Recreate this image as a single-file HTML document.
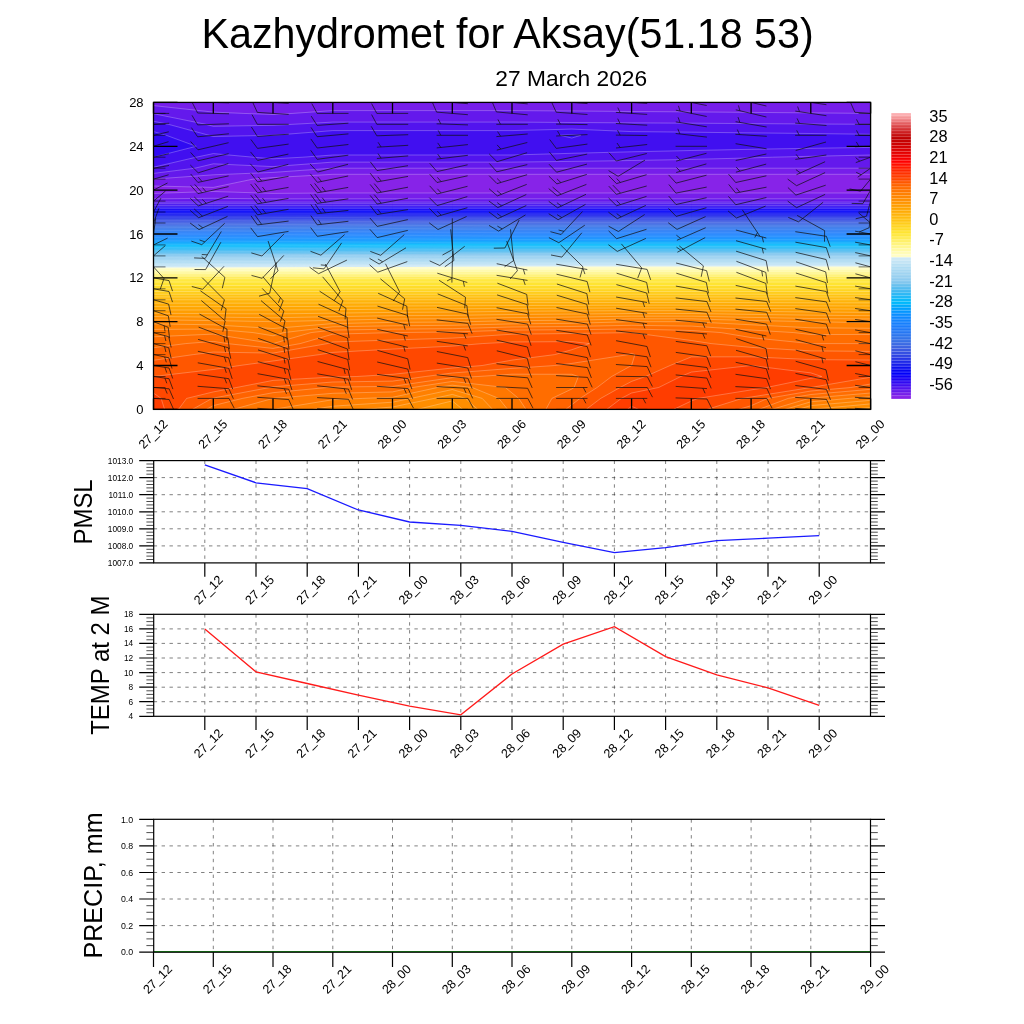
<!DOCTYPE html>
<html><head><meta charset="utf-8"><title>Kazhydromet for Aksay</title>
<style>html,body{margin:0;padding:0;background:#fff}svg{display:block}</style></head>
<body>
<svg width="1024" height="1024" viewBox="0 0 1024 1024" font-family="Liberation Sans, sans-serif" fill="#000">
<rect x="153.5" y="102.4" width="717.1" height="307.0" fill="#8723e8"/>
<path d="M153.5,409.4L213.3,409.4L273.0,409.4L332.8,409.4L392.5,409.4L452.3,409.4L512.0,409.4L571.8,409.4L631.6,409.4L691.3,409.4L751.1,409.4L810.8,409.4L870.6,409.4L870.6,398.4L870.6,387.5L870.6,376.5L870.6,365.5L870.6,354.6L870.6,343.6L870.6,332.6L870.6,321.7L870.6,310.7L870.6,299.8L870.6,288.8L870.6,277.8L870.6,266.9L870.6,255.9L870.6,244.9L870.6,234.0L870.6,223.0L870.6,212.0L870.6,201.1L870.6,193.0L810.8,193.0L751.1,193.0L691.3,193.0L631.6,193.0L571.8,193.0L512.0,193.0L452.3,193.0L392.5,193.0L332.8,193.0L273.0,193.4L213.3,191.5L153.5,193.4L153.5,201.1L153.5,212.0L153.5,223.0L153.5,234.0L153.5,244.9L153.5,255.9L153.5,266.9L153.5,277.8L153.5,288.8L153.5,299.8L153.5,310.7L153.5,321.7L153.5,332.6L153.5,343.6L153.5,354.6L153.5,365.5L153.5,376.5L153.5,387.5L153.5,398.4ZM153.5,179.1L153.5,186.0L213.3,187.4L253.1,179.1L273.0,177.6L332.8,174.3L392.5,174.3L452.3,174.3L512.0,174.3L571.8,174.3L631.6,174.3L691.3,174.3L751.1,174.3L810.8,174.3L870.6,174.3L870.6,168.2L870.6,157.2L870.6,146.3L870.6,135.3L870.6,124.3L870.6,113.4L870.6,102.4L810.8,102.4L751.1,102.4L691.3,102.4L631.6,102.4L571.8,102.4L512.0,102.4L452.3,102.4L392.5,102.4L332.8,102.4L273.0,102.4L213.3,102.4L153.5,102.4L153.5,113.4L153.5,124.3L153.5,135.3L153.5,146.3L153.5,157.2L153.5,168.2Z" fill="#761eea"/>
<path d="M153.5,409.4L213.3,409.4L273.0,409.4L332.8,409.4L392.5,409.4L452.3,409.4L512.0,409.4L571.8,409.4L631.6,409.4L691.3,409.4L751.1,409.4L810.8,409.4L870.6,409.4L870.6,398.4L870.6,387.5L870.6,376.5L870.6,365.5L870.6,354.6L870.6,343.6L870.6,332.6L870.6,321.7L870.6,310.7L870.6,299.8L870.6,288.8L870.6,277.8L870.6,266.9L870.6,255.9L870.6,244.9L870.6,234.0L870.6,223.0L870.6,212.0L870.6,201.1L870.6,198.8L810.8,198.8L751.1,198.8L691.3,198.8L631.6,198.8L571.8,198.8L512.0,198.8L452.3,198.8L392.5,198.8L332.8,198.8L273.0,198.9L213.3,198.3L153.5,198.9L153.5,201.1L153.5,212.0L153.5,223.0L153.5,234.0L153.5,244.9L153.5,255.9L153.5,266.9L153.5,277.8L153.5,288.8L153.5,299.8L153.5,310.7L153.5,321.7L153.5,332.6L153.5,343.6L153.5,354.6L153.5,365.5L153.5,376.5L153.5,387.5L153.5,398.4ZM153.5,168.2L153.5,179.1L213.3,174.8L273.0,172.4L332.8,168.2L332.8,168.2L392.5,168.2L452.3,168.2L512.0,168.2L571.8,168.2L631.6,168.2L691.3,168.2L751.1,168.2L810.8,168.2L870.6,168.2L870.6,157.2L870.6,146.3L870.6,135.3L870.6,124.3L870.6,113.4L870.6,113.4L810.8,112.9L751.1,112.4L691.3,111.9L631.6,111.5L571.8,111.0L512.0,110.6L452.3,110.6L392.5,110.6L332.8,110.6L292.9,113.4L273.0,114.5L243.1,113.4L213.3,112.1L153.5,105.6L153.5,113.4L153.5,124.3L153.5,135.3L153.5,146.3L153.5,157.2Z" fill="#6419ec"/>
<path d="M153.5,409.4L213.3,409.4L273.0,409.4L332.8,409.4L392.5,409.4L452.3,409.4L512.0,409.4L571.8,409.4L631.6,409.4L691.3,409.4L751.1,409.4L810.8,409.4L870.6,409.4L870.6,398.4L870.6,387.5L870.6,376.5L870.6,365.5L870.6,354.6L870.6,343.6L870.6,332.6L870.6,321.7L870.6,310.7L870.6,299.8L870.6,288.8L870.6,277.8L870.6,266.9L870.6,255.9L870.6,244.9L870.6,234.0L870.6,223.0L870.6,212.0L870.6,202.1L810.8,202.1L751.1,202.1L691.3,202.1L631.6,202.1L571.8,202.1L512.0,202.1L452.3,202.1L392.5,202.1L332.8,202.1L273.0,202.1L213.3,202.1L153.5,202.1L153.5,212.0L153.5,223.0L153.5,234.0L153.5,244.9L153.5,255.9L153.5,266.9L153.5,277.8L153.5,288.8L153.5,299.8L153.5,310.7L153.5,321.7L153.5,332.6L153.5,343.6L153.5,354.6L153.5,365.5L153.5,376.5L153.5,387.5L153.5,398.4ZM153.5,168.2L153.5,173.4L194.9,168.2L213.3,163.8L273.0,166.6L332.8,162.1L392.5,162.1L452.3,162.1L512.0,162.1L571.8,161.4L631.6,160.5L691.3,159.4L751.1,157.9L772.8,157.2L810.8,156.3L870.6,155.0L870.6,146.3L870.6,135.3L870.6,124.3L870.6,124.3L810.8,124.0L751.1,123.6L691.3,123.2L631.6,122.9L571.8,122.5L512.0,122.1L452.3,122.1L392.5,122.1L332.8,122.1L292.9,124.3L273.0,125.3L213.3,126.3L205.8,124.3L153.5,113.7L153.5,124.3L153.5,135.3L153.5,146.3L153.5,157.2Z" fill="#5214ee"/>
<path d="M153.5,409.4L213.3,409.4L273.0,409.4L332.8,409.4L392.5,409.4L452.3,409.4L512.0,409.4L571.8,409.4L631.6,409.4L691.3,409.4L751.1,409.4L810.8,409.4L870.6,409.4L870.6,398.4L870.6,387.5L870.6,376.5L870.6,365.5L870.6,354.6L870.6,343.6L870.6,332.6L870.6,321.7L870.6,310.7L870.6,299.8L870.6,288.8L870.6,277.8L870.6,266.9L870.6,255.9L870.6,244.9L870.6,234.0L870.6,223.0L870.6,212.0L870.6,203.7L810.8,203.7L751.1,203.7L691.3,203.7L631.6,203.7L571.8,203.7L512.0,203.7L452.3,203.7L392.5,203.7L332.8,203.7L273.0,203.7L213.3,203.7L153.5,203.7L153.5,212.0L153.5,223.0L153.5,234.0L153.5,244.9L153.5,255.9L153.5,266.9L153.5,277.8L153.5,288.8L153.5,299.8L153.5,310.7L153.5,321.7L153.5,332.6L153.5,343.6L153.5,354.6L153.5,365.5L153.5,376.5L153.5,387.5L153.5,398.4ZM153.5,157.2L153.5,167.2L196.2,157.2L213.3,153.6L253.1,157.2L273.0,158.8L302.9,157.2L332.8,155.0L392.5,155.0L452.3,155.0L512.0,155.0L571.8,153.3L631.6,151.8L691.3,150.5L751.1,149.3L810.8,148.3L870.6,147.4L870.6,146.3L870.6,135.3L870.6,134.3L810.8,133.5L751.1,132.9L691.3,132.2L631.6,131.6L571.8,129.1L512.0,130.6L452.3,130.6L392.5,130.6L332.8,130.6L273.0,135.3L273.0,135.3L213.3,136.5L209.0,135.3L168.4,124.3L153.5,121.3L153.5,124.3L153.5,135.3L153.5,146.3Z" fill="#410ff0"/>
<path d="M153.5,409.4L213.3,409.4L273.0,409.4L332.8,409.4L392.5,409.4L452.3,409.4L512.0,409.4L571.8,409.4L631.6,409.4L691.3,409.4L751.1,409.4L810.8,409.4L870.6,409.4L870.6,398.4L870.6,387.5L870.6,376.5L870.6,365.5L870.6,354.6L870.6,343.6L870.6,332.6L870.6,321.7L870.6,310.7L870.6,299.8L870.6,288.8L870.6,277.8L870.6,266.9L870.6,255.9L870.6,244.9L870.6,234.0L870.6,223.0L870.6,212.0L870.6,205.4L810.8,205.4L751.1,205.4L691.3,205.4L631.6,205.4L571.8,205.4L512.0,205.4L452.3,205.4L392.5,205.4L332.8,205.4L273.0,205.4L213.3,205.4L153.5,205.4L153.5,212.0L153.5,223.0L153.5,234.0L153.5,244.9L153.5,255.9L153.5,266.9L153.5,277.8L153.5,288.8L153.5,299.8L153.5,310.7L153.5,321.7L153.5,332.6L153.5,343.6L153.5,354.6L153.5,365.5L153.5,376.5L153.5,387.5L153.5,398.4ZM153.5,146.3L153.5,157.2L196.2,146.3L166.3,135.3L153.5,131.6L153.5,135.3ZM559.9,135.3L571.8,138.0L580.8,135.3L571.8,134.7Z" fill="#300af2"/>
<path d="M153.5,409.4L213.3,409.4L273.0,409.4L332.8,409.4L392.5,409.4L452.3,409.4L512.0,409.4L571.8,409.4L631.6,409.4L691.3,409.4L751.1,409.4L810.8,409.4L870.6,409.4L870.6,398.4L870.6,387.5L870.6,376.5L870.6,365.5L870.6,354.6L870.6,343.6L870.6,332.6L870.6,321.7L870.6,310.7L870.6,299.8L870.6,288.8L870.6,277.8L870.6,266.9L870.6,255.9L870.6,244.9L870.6,234.0L870.6,223.0L870.6,212.0L870.6,207.1L810.8,207.1L751.1,207.1L691.3,207.1L631.6,207.1L571.8,207.1L512.0,207.1L452.3,207.1L392.5,207.1L332.8,207.1L273.0,207.1L213.3,207.1L153.5,207.1L153.5,212.0L153.5,223.0L153.5,234.0L153.5,244.9L153.5,255.9L153.5,266.9L153.5,277.8L153.5,288.8L153.5,299.8L153.5,310.7L153.5,321.7L153.5,332.6L153.5,343.6L153.5,354.6L153.5,365.5L153.5,376.5L153.5,387.5L153.5,398.4Z" fill="#1e05f5"/>
<path d="M153.5,409.4L213.3,409.4L273.0,409.4L332.8,409.4L392.5,409.4L452.3,409.4L512.0,409.4L571.8,409.4L631.6,409.4L691.3,409.4L751.1,409.4L810.8,409.4L870.6,409.4L870.6,398.4L870.6,387.5L870.6,376.5L870.6,365.5L870.6,354.6L870.6,343.6L870.6,332.6L870.6,321.7L870.6,310.7L870.6,299.8L870.6,288.8L870.6,277.8L870.6,266.9L870.6,255.9L870.6,244.9L870.6,234.0L870.6,223.0L870.6,212.0L870.6,208.7L810.8,208.7L751.1,208.7L691.3,208.7L631.6,208.7L571.8,208.7L512.0,208.7L452.3,208.7L392.5,208.7L332.8,208.7L273.0,208.7L213.3,208.7L153.5,208.7L153.5,212.0L153.5,223.0L153.5,234.0L153.5,244.9L153.5,255.9L153.5,266.9L153.5,277.8L153.5,288.8L153.5,299.8L153.5,310.7L153.5,321.7L153.5,332.6L153.5,343.6L153.5,354.6L153.5,365.5L153.5,376.5L153.5,387.5L153.5,398.4Z" fill="#0f00f8"/>
<path d="M153.5,409.4L213.3,409.4L273.0,409.4L332.8,409.4L392.5,409.4L452.3,409.4L512.0,409.4L571.8,409.4L631.6,409.4L691.3,409.4L751.1,409.4L810.8,409.4L870.6,409.4L870.6,398.4L870.6,387.5L870.6,376.5L870.6,365.5L870.6,354.6L870.6,343.6L870.6,332.6L870.6,321.7L870.6,310.7L870.6,299.8L870.6,288.8L870.6,277.8L870.6,266.9L870.6,255.9L870.6,244.9L870.6,234.0L870.6,223.0L870.6,212.0L870.6,210.4L810.8,210.4L751.1,210.4L691.3,210.4L631.6,210.4L571.8,210.4L512.0,210.4L452.3,210.4L392.5,210.4L332.8,210.4L273.0,210.4L213.3,210.4L153.5,210.4L153.5,212.0L153.5,223.0L153.5,234.0L153.5,244.9L153.5,255.9L153.5,266.9L153.5,277.8L153.5,288.8L153.5,299.8L153.5,310.7L153.5,321.7L153.5,332.6L153.5,343.6L153.5,354.6L153.5,365.5L153.5,376.5L153.5,387.5L153.5,398.4Z" fill="#0000fa"/>
<path d="M153.5,409.4L213.3,409.4L273.0,409.4L332.8,409.4L392.5,409.4L452.3,409.4L512.0,409.4L571.8,409.4L631.6,409.4L691.3,409.4L751.1,409.4L810.8,409.4L870.6,409.4L870.6,398.4L870.6,387.5L870.6,376.5L870.6,365.5L870.6,354.6L870.6,343.6L870.6,332.6L870.6,321.7L870.6,310.7L870.6,299.8L870.6,288.8L870.6,277.8L870.6,266.9L870.6,255.9L870.6,244.9L870.6,234.0L870.6,223.0L870.6,212.0L810.8,212.0L751.1,212.0L691.3,212.0L631.6,212.0L571.8,212.0L512.0,212.0L452.3,212.0L392.5,212.0L332.8,212.0L273.0,212.0L213.3,212.0L153.5,212.0L153.5,223.0L153.5,234.0L153.5,244.9L153.5,255.9L153.5,266.9L153.5,277.8L153.5,288.8L153.5,299.8L153.5,310.7L153.5,321.7L153.5,332.6L153.5,343.6L153.5,354.6L153.5,365.5L153.5,376.5L153.5,387.5L153.5,398.4Z" fill="#0505f5"/>
<path d="M153.5,409.4L213.3,409.4L273.0,409.4L332.8,409.4L392.5,409.4L452.3,409.4L512.0,409.4L571.8,409.4L631.6,409.4L691.3,409.4L751.1,409.4L810.8,409.4L870.6,409.4L870.6,398.4L870.6,387.5L870.6,376.5L870.6,365.5L870.6,354.6L870.6,343.6L870.6,332.6L870.6,321.7L870.6,310.7L870.6,299.8L870.6,288.8L870.6,277.8L870.6,266.9L870.6,255.9L870.6,244.9L870.6,234.0L870.6,223.0L870.6,213.3L810.8,213.3L751.1,213.3L691.3,213.3L631.6,213.3L571.8,213.3L512.0,213.3L452.3,213.4L392.5,213.4L332.8,213.4L273.0,213.4L213.3,213.4L153.5,213.5L153.5,223.0L153.5,234.0L153.5,244.9L153.5,255.9L153.5,266.9L153.5,277.8L153.5,288.8L153.5,299.8L153.5,310.7L153.5,321.7L153.5,332.6L153.5,343.6L153.5,354.6L153.5,365.5L153.5,376.5L153.5,387.5L153.5,398.4Z" fill="#0c0ff0"/>
<path d="M153.5,409.4L213.3,409.4L273.0,409.4L332.8,409.4L392.5,409.4L452.3,409.4L512.0,409.4L571.8,409.4L631.6,409.4L691.3,409.4L751.1,409.4L810.8,409.4L870.6,409.4L870.6,398.4L870.6,387.5L870.6,376.5L870.6,365.5L870.6,354.6L870.6,343.6L870.6,332.6L870.6,321.7L870.6,310.7L870.6,299.8L870.6,288.8L870.6,277.8L870.6,266.9L870.6,255.9L870.6,244.9L870.6,234.0L870.6,223.0L870.6,214.7L810.8,214.7L751.1,214.7L691.3,214.7L631.6,214.7L571.8,214.7L512.0,214.7L452.3,214.7L392.5,214.7L332.8,214.8L273.0,214.8L213.3,214.8L153.5,214.9L153.5,223.0L153.5,234.0L153.5,244.9L153.5,255.9L153.5,266.9L153.5,277.8L153.5,288.8L153.5,299.8L153.5,310.7L153.5,321.7L153.5,332.6L153.5,343.6L153.5,354.6L153.5,365.5L153.5,376.5L153.5,387.5L153.5,398.4Z" fill="#161deb"/>
<path d="M153.5,409.4L213.3,409.4L273.0,409.4L332.8,409.4L392.5,409.4L452.3,409.4L512.0,409.4L571.8,409.4L631.6,409.4L691.3,409.4L751.1,409.4L810.8,409.4L870.6,409.4L870.6,398.4L870.6,387.5L870.6,376.5L870.6,365.5L870.6,354.6L870.6,343.6L870.6,332.6L870.6,321.7L870.6,310.7L870.6,299.8L870.6,288.8L870.6,277.8L870.6,266.9L870.6,255.9L870.6,244.9L870.6,234.0L870.6,223.0L870.6,216.0L810.8,216.0L751.1,216.0L691.3,216.0L631.6,216.0L571.8,216.0L512.0,216.0L452.3,216.0L392.5,216.1L332.8,216.1L273.0,216.2L213.3,216.3L153.5,216.3L153.5,223.0L153.5,234.0L153.5,244.9L153.5,255.9L153.5,266.9L153.5,277.8L153.5,288.8L153.5,299.8L153.5,310.7L153.5,321.7L153.5,332.6L153.5,343.6L153.5,354.6L153.5,365.5L153.5,376.5L153.5,387.5L153.5,398.4Z" fill="#1e29e8"/>
<path d="M153.5,409.4L213.3,409.4L273.0,409.4L332.8,409.4L392.5,409.4L452.3,409.4L512.0,409.4L571.8,409.4L631.6,409.4L691.3,409.4L751.1,409.4L810.8,409.4L870.6,409.4L870.6,398.4L870.6,387.5L870.6,376.5L870.6,365.5L870.6,354.6L870.6,343.6L870.6,332.6L870.6,321.7L870.6,310.7L870.6,299.8L870.6,288.8L870.6,277.8L870.6,266.9L870.6,255.9L870.6,244.9L870.6,234.0L870.6,223.0L870.6,217.3L810.8,217.3L751.1,217.3L691.3,217.3L631.6,217.3L571.8,217.3L512.0,217.3L452.3,217.3L392.5,217.4L332.8,217.5L273.0,217.6L213.3,217.7L153.5,217.7L153.5,223.0L153.5,234.0L153.5,244.9L153.5,255.9L153.5,266.9L153.5,277.8L153.5,288.8L153.5,299.8L153.5,310.7L153.5,321.7L153.5,332.6L153.5,343.6L153.5,354.6L153.5,365.5L153.5,376.5L153.5,387.5L153.5,398.4Z" fill="#2636e6"/>
<path d="M153.5,409.4L213.3,409.4L273.0,409.4L332.8,409.4L392.5,409.4L452.3,409.4L512.0,409.4L571.8,409.4L631.6,409.4L691.3,409.4L751.1,409.4L810.8,409.4L870.6,409.4L870.6,398.4L870.6,387.5L870.6,376.5L870.6,365.5L870.6,354.6L870.6,343.6L870.6,332.6L870.6,321.7L870.6,310.7L870.6,299.8L870.6,288.8L870.6,277.8L870.6,266.9L870.6,255.9L870.6,244.9L870.6,234.0L870.6,223.0L870.6,218.6L810.8,218.6L751.1,218.6L691.3,218.6L631.6,218.6L571.8,218.6L512.0,218.6L452.3,218.7L392.5,218.8L332.8,218.9L273.0,219.0L213.3,219.1L153.5,219.2L153.5,223.0L153.5,234.0L153.5,244.9L153.5,255.9L153.5,266.9L153.5,277.8L153.5,288.8L153.5,299.8L153.5,310.7L153.5,321.7L153.5,332.6L153.5,343.6L153.5,354.6L153.5,365.5L153.5,376.5L153.5,387.5L153.5,398.4Z" fill="#2d43e4"/>
<path d="M153.5,409.4L213.3,409.4L273.0,409.4L332.8,409.4L392.5,409.4L452.3,409.4L512.0,409.4L571.8,409.4L631.6,409.4L691.3,409.4L751.1,409.4L810.8,409.4L870.6,409.4L870.6,398.4L870.6,387.5L870.6,376.5L870.6,365.5L870.6,354.6L870.6,343.6L870.6,332.6L870.6,321.7L870.6,310.7L870.6,299.8L870.6,288.8L870.6,277.8L870.6,266.9L870.6,255.9L870.6,244.9L870.6,234.0L870.6,223.0L870.6,219.9L810.8,219.9L751.1,219.9L691.3,219.9L631.6,219.9L571.8,219.9L512.0,219.9L452.3,220.0L392.5,220.1L332.8,220.2L273.0,220.3L213.3,220.5L153.5,220.6L153.5,223.0L153.5,234.0L153.5,244.9L153.5,255.9L153.5,266.9L153.5,277.8L153.5,288.8L153.5,299.8L153.5,310.7L153.5,321.7L153.5,332.6L153.5,343.6L153.5,354.6L153.5,365.5L153.5,376.5L153.5,387.5L153.5,398.4Z" fill="#344fe2"/>
<path d="M153.5,409.4L213.3,409.4L273.0,409.4L332.8,409.4L392.5,409.4L452.3,409.4L512.0,409.4L571.8,409.4L631.6,409.4L691.3,409.4L751.1,409.4L810.8,409.4L870.6,409.4L870.6,398.4L870.6,387.5L870.6,376.5L870.6,365.5L870.6,354.6L870.6,343.6L870.6,332.6L870.6,321.7L870.6,310.7L870.6,299.8L870.6,288.8L870.6,277.8L870.6,266.9L870.6,255.9L870.6,244.9L870.6,234.0L870.6,223.0L870.6,221.2L810.8,221.2L751.1,221.2L691.3,221.2L631.6,221.2L571.8,221.2L512.0,221.2L452.3,221.3L392.5,221.4L332.8,221.6L273.0,221.7L213.3,221.9L153.5,222.0L153.5,223.0L153.5,234.0L153.5,244.9L153.5,255.9L153.5,266.9L153.5,277.8L153.5,288.8L153.5,299.8L153.5,310.7L153.5,321.7L153.5,332.6L153.5,343.6L153.5,354.6L153.5,365.5L153.5,376.5L153.5,387.5L153.5,398.4Z" fill="#3a59e1"/>
<path d="M153.5,409.4L213.3,409.4L273.0,409.4L332.8,409.4L392.5,409.4L452.3,409.4L512.0,409.4L571.8,409.4L631.6,409.4L691.3,409.4L751.1,409.4L810.8,409.4L870.6,409.4L870.6,398.4L870.6,387.5L870.6,376.5L870.6,365.5L870.6,354.6L870.6,343.6L870.6,332.6L870.6,321.7L870.6,310.7L870.6,299.8L870.6,288.8L870.6,277.8L870.6,266.9L870.6,255.9L870.6,244.9L870.6,234.0L870.6,223.0L870.6,222.5L810.8,222.5L751.1,222.5L691.3,222.5L631.6,222.5L571.8,222.5L512.0,222.5L452.3,222.6L392.5,222.8L332.8,222.9L307.2,223.0L273.0,223.1L213.3,223.3L153.5,223.4L153.5,234.0L153.5,244.9L153.5,255.9L153.5,266.9L153.5,277.8L153.5,288.8L153.5,299.8L153.5,310.7L153.5,321.7L153.5,332.6L153.5,343.6L153.5,354.6L153.5,365.5L153.5,376.5L153.5,387.5L153.5,398.4Z" fill="#3c62e2"/>
<path d="M153.5,409.4L213.3,409.4L273.0,409.4L332.8,409.4L392.5,409.4L452.3,409.4L512.0,409.4L571.8,409.4L631.6,409.4L691.3,409.4L751.1,409.4L810.8,409.4L870.6,409.4L870.6,398.4L870.6,387.5L870.6,376.5L870.6,365.5L870.6,354.6L870.6,343.6L870.6,332.6L870.6,321.7L870.6,310.7L870.6,299.8L870.6,288.8L870.6,277.8L870.6,266.9L870.6,255.9L870.6,244.9L870.6,234.0L870.6,223.9L810.8,223.9L751.1,223.9L691.3,223.9L631.6,223.9L571.8,223.9L512.0,223.9L452.3,224.0L392.5,224.2L332.8,224.4L273.0,224.5L213.3,224.7L153.5,224.9L153.5,234.0L153.5,244.9L153.5,255.9L153.5,266.9L153.5,277.8L153.5,288.8L153.5,299.8L153.5,310.7L153.5,321.7L153.5,332.6L153.5,343.6L153.5,354.6L153.5,365.5L153.5,376.5L153.5,387.5L153.5,398.4Z" fill="#3a6ae4"/>
<path d="M153.5,409.4L213.3,409.4L273.0,409.4L332.8,409.4L392.5,409.4L452.3,409.4L512.0,409.4L571.8,409.4L631.6,409.4L691.3,409.4L751.1,409.4L810.8,409.4L870.6,409.4L870.6,398.4L870.6,387.5L870.6,376.5L870.6,365.5L870.6,354.6L870.6,343.6L870.6,332.6L870.6,321.7L870.6,310.7L870.6,299.8L870.6,288.8L870.6,277.8L870.6,266.9L870.6,255.9L870.6,244.9L870.6,234.0L870.6,225.3L810.8,225.3L751.1,225.3L691.3,225.3L631.6,225.3L571.8,225.3L512.0,225.3L452.3,225.5L392.5,225.6L332.8,225.8L273.0,225.9L213.3,226.1L153.5,226.3L153.5,234.0L153.5,244.9L153.5,255.9L153.5,266.9L153.5,277.8L153.5,288.8L153.5,299.8L153.5,310.7L153.5,321.7L153.5,332.6L153.5,343.6L153.5,354.6L153.5,365.5L153.5,376.5L153.5,387.5L153.5,398.4Z" fill="#3770e6"/>
<path d="M153.5,409.4L213.3,409.4L273.0,409.4L332.8,409.4L392.5,409.4L452.3,409.4L512.0,409.4L571.8,409.4L631.6,409.4L691.3,409.4L751.1,409.4L810.8,409.4L870.6,409.4L870.6,398.4L870.6,387.5L870.6,376.5L870.6,365.5L870.6,354.6L870.6,343.6L870.6,332.6L870.6,321.7L870.6,310.7L870.6,299.8L870.6,288.8L870.6,277.8L870.6,266.9L870.6,255.9L870.6,244.9L870.6,234.0L870.6,226.7L810.8,226.7L751.1,226.7L691.3,226.7L631.6,226.7L571.8,226.7L512.0,226.7L452.3,226.9L392.5,227.0L332.8,227.2L273.0,227.4L213.3,227.5L153.5,227.7L153.5,234.0L153.5,244.9L153.5,255.9L153.5,266.9L153.5,277.8L153.5,288.8L153.5,299.8L153.5,310.7L153.5,321.7L153.5,332.6L153.5,343.6L153.5,354.6L153.5,365.5L153.5,376.5L153.5,387.5L153.5,398.4Z" fill="#3274e9"/>
<path d="M153.5,409.4L213.3,409.4L273.0,409.4L332.8,409.4L392.5,409.4L452.3,409.4L512.0,409.4L571.8,409.4L631.6,409.4L691.3,409.4L751.1,409.4L810.8,409.4L870.6,409.4L870.6,398.4L870.6,387.5L870.6,376.5L870.6,365.5L870.6,354.6L870.6,343.6L870.6,332.6L870.6,321.7L870.6,310.7L870.6,299.8L870.6,288.8L870.6,277.8L870.6,266.9L870.6,255.9L870.6,244.9L870.6,234.0L870.6,228.1L810.8,228.1L751.1,228.1L691.3,228.1L631.6,228.1L571.8,228.1L512.0,228.1L452.3,228.3L392.5,228.5L332.8,228.6L273.0,228.8L213.3,229.0L153.5,229.1L153.5,234.0L153.5,244.9L153.5,255.9L153.5,266.9L153.5,277.8L153.5,288.8L153.5,299.8L153.5,310.7L153.5,321.7L153.5,332.6L153.5,343.6L153.5,354.6L153.5,365.5L153.5,376.5L153.5,387.5L153.5,398.4Z" fill="#2c76ee"/>
<path d="M153.5,409.4L213.3,409.4L273.0,409.4L332.8,409.4L392.5,409.4L452.3,409.4L512.0,409.4L571.8,409.4L631.6,409.4L691.3,409.4L751.1,409.4L810.8,409.4L870.6,409.4L870.6,398.4L870.6,387.5L870.6,376.5L870.6,365.5L870.6,354.6L870.6,343.6L870.6,332.6L870.6,321.7L870.6,310.7L870.6,299.8L870.6,288.8L870.6,277.8L870.6,266.9L870.6,255.9L870.6,244.9L870.6,234.0L870.6,229.6L810.8,229.6L751.1,229.6L691.3,229.6L631.6,229.6L571.8,229.6L512.0,229.6L452.3,229.7L392.5,229.9L332.8,230.1L273.0,230.2L213.3,230.4L153.5,230.6L153.5,234.0L153.5,244.9L153.5,255.9L153.5,266.9L153.5,277.8L153.5,288.8L153.5,299.8L153.5,310.7L153.5,321.7L153.5,332.6L153.5,343.6L153.5,354.6L153.5,365.5L153.5,376.5L153.5,387.5L153.5,398.4Z" fill="#2678f3"/>
<path d="M153.5,409.4L213.3,409.4L273.0,409.4L332.8,409.4L392.5,409.4L452.3,409.4L512.0,409.4L571.8,409.4L631.6,409.4L691.3,409.4L751.1,409.4L810.8,409.4L870.6,409.4L870.6,398.4L870.6,387.5L870.6,376.5L870.6,365.5L870.6,354.6L870.6,343.6L870.6,332.6L870.6,321.7L870.6,310.7L870.6,299.8L870.6,288.8L870.6,277.8L870.6,266.9L870.6,255.9L870.6,244.9L870.6,234.0L870.6,231.0L810.8,231.0L751.1,231.0L691.3,231.0L631.6,231.0L571.8,231.0L512.0,231.0L452.3,231.1L392.5,231.3L332.8,231.5L273.0,231.6L213.3,231.8L153.5,232.0L153.5,234.0L153.5,244.9L153.5,255.9L153.5,266.9L153.5,277.8L153.5,288.8L153.5,299.8L153.5,310.7L153.5,321.7L153.5,332.6L153.5,343.6L153.5,354.6L153.5,365.5L153.5,376.5L153.5,387.5L153.5,398.4Z" fill="#217af8"/>
<path d="M153.5,409.4L213.3,409.4L273.0,409.4L332.8,409.4L392.5,409.4L452.3,409.4L512.0,409.4L571.8,409.4L631.6,409.4L691.3,409.4L751.1,409.4L810.8,409.4L870.6,409.4L870.6,398.4L870.6,387.5L870.6,376.5L870.6,365.5L870.6,354.6L870.6,343.6L870.6,332.6L870.6,321.7L870.6,310.7L870.6,299.8L870.6,288.8L870.6,277.8L870.6,266.9L870.6,255.9L870.6,244.9L870.6,234.0L870.6,232.4L810.8,232.4L751.1,232.4L691.3,232.4L631.6,232.4L571.8,232.4L512.0,232.4L452.3,232.6L392.5,232.7L332.8,232.9L273.0,233.1L213.3,233.2L153.5,233.4L153.5,234.0L153.5,244.9L153.5,255.9L153.5,266.9L153.5,277.8L153.5,288.8L153.5,299.8L153.5,310.7L153.5,321.7L153.5,332.6L153.5,343.6L153.5,354.6L153.5,365.5L153.5,376.5L153.5,387.5L153.5,398.4Z" fill="#1c7dfc"/>
<path d="M153.5,409.4L213.3,409.4L273.0,409.4L332.8,409.4L392.5,409.4L452.3,409.4L512.0,409.4L571.8,409.4L631.6,409.4L691.3,409.4L751.1,409.4L810.8,409.4L870.6,409.4L870.6,398.4L870.6,387.5L870.6,376.5L870.6,365.5L870.6,354.6L870.6,343.6L870.6,332.6L870.6,321.7L870.6,310.7L870.6,299.8L870.6,288.8L870.6,277.8L870.6,266.9L870.6,255.9L870.6,244.9L870.6,234.0L870.6,233.8L810.8,233.8L751.1,233.8L691.3,233.8L631.6,233.8L571.8,233.8L512.0,233.8L460.8,234.0L452.3,234.0L392.5,234.2L332.8,234.3L273.0,234.5L213.3,234.7L153.5,234.8L153.5,244.9L153.5,255.9L153.5,266.9L153.5,277.8L153.5,288.8L153.5,299.8L153.5,310.7L153.5,321.7L153.5,332.6L153.5,343.6L153.5,354.6L153.5,365.5L153.5,376.5L153.5,387.5L153.5,398.4Z" fill="#1880fd"/>
<path d="M153.5,409.4L213.3,409.4L273.0,409.4L332.8,409.4L392.5,409.4L452.3,409.4L512.0,409.4L571.8,409.4L631.6,409.4L691.3,409.4L751.1,409.4L810.8,409.4L870.6,409.4L870.6,398.4L870.6,387.5L870.6,376.5L870.6,365.5L870.6,354.6L870.6,343.6L870.6,332.6L870.6,321.7L870.6,310.7L870.6,299.8L870.6,288.8L870.6,277.8L870.6,266.9L870.6,255.9L870.6,244.9L870.6,235.2L810.8,235.2L751.1,235.2L691.3,235.2L631.6,235.2L571.8,235.2L512.0,235.2L452.3,235.4L392.5,235.6L332.8,235.7L273.0,235.9L213.3,236.1L153.5,236.2L153.5,244.9L153.5,255.9L153.5,266.9L153.5,277.8L153.5,288.8L153.5,299.8L153.5,310.7L153.5,321.7L153.5,332.6L153.5,343.6L153.5,354.6L153.5,365.5L153.5,376.5L153.5,387.5L153.5,398.4Z" fill="#1484fe"/>
<path d="M153.5,409.4L213.3,409.4L273.0,409.4L332.8,409.4L392.5,409.4L452.3,409.4L512.0,409.4L571.8,409.4L631.6,409.4L691.3,409.4L751.1,409.4L810.8,409.4L870.6,409.4L870.6,398.4L870.6,387.5L870.6,376.5L870.6,365.5L870.6,354.6L870.6,343.6L870.6,332.6L870.6,321.7L870.6,310.7L870.6,299.8L870.6,288.8L870.6,277.8L870.6,266.9L870.6,255.9L870.6,244.9L870.6,236.6L810.8,236.6L751.1,236.6L691.3,236.6L631.6,236.6L571.8,236.6L512.0,236.6L452.3,236.8L392.5,237.0L332.8,237.1L273.0,237.3L213.3,237.5L153.5,237.6L153.5,244.9L153.5,255.9L153.5,266.9L153.5,277.8L153.5,288.8L153.5,299.8L153.5,310.7L153.5,321.7L153.5,332.6L153.5,343.6L153.5,354.6L153.5,365.5L153.5,376.5L153.5,387.5L153.5,398.4Z" fill="#0f88ff"/>
<path d="M153.5,409.4L213.3,409.4L273.0,409.4L332.8,409.4L392.5,409.4L452.3,409.4L512.0,409.4L571.8,409.4L631.6,409.4L691.3,409.4L751.1,409.4L810.8,409.4L870.6,409.4L870.6,398.4L870.6,387.5L870.6,376.5L870.6,365.5L870.6,354.6L870.6,343.6L870.6,332.6L870.6,321.7L870.6,310.7L870.6,299.8L870.6,288.8L870.6,277.8L870.6,266.9L870.6,255.9L870.6,244.9L870.6,238.0L810.8,238.0L751.1,238.0L691.3,238.0L631.6,238.0L571.8,238.0L512.0,238.0L452.3,238.2L392.5,238.4L332.8,238.5L273.0,238.7L213.3,238.9L153.5,239.0L153.5,244.9L153.5,255.9L153.5,266.9L153.5,277.8L153.5,288.8L153.5,299.8L153.5,310.7L153.5,321.7L153.5,332.6L153.5,343.6L153.5,354.6L153.5,365.5L153.5,376.5L153.5,387.5L153.5,398.4Z" fill="#0a8eff"/>
<path d="M153.5,409.4L213.3,409.4L273.0,409.4L332.8,409.4L392.5,409.4L452.3,409.4L512.0,409.4L571.8,409.4L631.6,409.4L691.3,409.4L751.1,409.4L810.8,409.4L870.6,409.4L870.6,398.4L870.6,387.5L870.6,376.5L870.6,365.5L870.6,354.6L870.6,343.6L870.6,332.6L870.6,321.7L870.6,310.7L870.6,299.8L870.6,288.8L870.6,277.8L870.6,266.9L870.6,255.9L870.6,244.9L870.6,239.5L810.8,239.5L751.1,239.5L691.3,239.5L631.6,239.5L571.8,239.5L512.0,239.5L452.3,239.6L392.5,239.8L332.8,239.9L273.0,240.1L213.3,240.3L153.5,240.4L153.5,244.9L153.5,255.9L153.5,266.9L153.5,277.8L153.5,288.8L153.5,299.8L153.5,310.7L153.5,321.7L153.5,332.6L153.5,343.6L153.5,354.6L153.5,365.5L153.5,376.5L153.5,387.5L153.5,398.4Z" fill="#0596ff"/>
<path d="M153.5,409.4L213.3,409.4L273.0,409.4L332.8,409.4L392.5,409.4L452.3,409.4L512.0,409.4L571.8,409.4L631.6,409.4L691.3,409.4L751.1,409.4L810.8,409.4L870.6,409.4L870.6,398.4L870.6,387.5L870.6,376.5L870.6,365.5L870.6,354.6L870.6,343.6L870.6,332.6L870.6,321.7L870.6,310.7L870.6,299.8L870.6,288.8L870.6,277.8L870.6,266.9L870.6,255.9L870.6,244.9L870.6,240.9L810.8,240.9L751.1,240.9L691.3,240.9L631.6,240.9L571.8,240.9L512.0,240.9L452.3,241.0L392.5,241.2L332.8,241.4L273.0,241.5L213.3,241.7L153.5,241.8L153.5,244.9L153.5,255.9L153.5,266.9L153.5,277.8L153.5,288.8L153.5,299.8L153.5,310.7L153.5,321.7L153.5,332.6L153.5,343.6L153.5,354.6L153.5,365.5L153.5,376.5L153.5,387.5L153.5,398.4Z" fill="#00a0fe"/>
<path d="M153.5,409.4L213.3,409.4L273.0,409.4L332.8,409.4L392.5,409.4L452.3,409.4L512.0,409.4L571.8,409.4L631.6,409.4L691.3,409.4L751.1,409.4L810.8,409.4L870.6,409.4L870.6,398.4L870.6,387.5L870.6,376.5L870.6,365.5L870.6,354.6L870.6,343.6L870.6,332.6L870.6,321.7L870.6,310.7L870.6,299.8L870.6,288.8L870.6,277.8L870.6,266.9L870.6,255.9L870.6,244.9L870.6,242.3L810.8,242.3L751.1,242.3L691.3,242.3L631.6,242.3L571.8,242.3L512.0,242.3L452.3,242.4L392.5,242.6L332.8,242.8L273.0,242.9L213.3,243.1L153.5,243.2L153.5,244.9L153.5,255.9L153.5,266.9L153.5,277.8L153.5,288.8L153.5,299.8L153.5,310.7L153.5,321.7L153.5,332.6L153.5,343.6L153.5,354.6L153.5,365.5L153.5,376.5L153.5,387.5L153.5,398.4Z" fill="#00aafc"/>
<path d="M153.5,409.4L213.3,409.4L273.0,409.4L332.8,409.4L392.5,409.4L452.3,409.4L512.0,409.4L571.8,409.4L631.6,409.4L691.3,409.4L751.1,409.4L810.8,409.4L870.6,409.4L870.6,398.4L870.6,387.5L870.6,376.5L870.6,365.5L870.6,354.6L870.6,343.6L870.6,332.6L870.6,321.7L870.6,310.7L870.6,299.8L870.6,288.8L870.6,277.8L870.6,266.9L870.6,255.9L870.6,244.9L870.6,243.7L810.8,243.7L751.1,243.7L691.3,243.7L631.6,243.7L571.8,243.7L512.0,243.7L452.3,243.8L392.5,244.0L332.8,244.2L273.0,244.3L213.3,244.5L153.5,244.7L153.5,244.9L153.5,255.9L153.5,266.9L153.5,277.8L153.5,288.8L153.5,299.8L153.5,310.7L153.5,321.7L153.5,332.6L153.5,343.6L153.5,354.6L153.5,365.5L153.5,376.5L153.5,387.5L153.5,398.4Z" fill="#00b9fc"/>
<path d="M153.5,409.4L213.3,409.4L273.0,409.4L332.8,409.4L392.5,409.4L452.3,409.4L512.0,409.4L571.8,409.4L631.6,409.4L691.3,409.4L751.1,409.4L810.8,409.4L870.6,409.4L870.6,398.4L870.6,387.5L870.6,376.5L870.6,365.5L870.6,354.6L870.6,343.6L870.6,332.6L870.6,321.7L870.6,310.7L870.6,299.8L870.6,288.8L870.6,277.8L870.6,266.9L870.6,255.9L870.6,245.1L810.8,245.1L751.1,245.1L691.3,245.1L631.6,245.1L571.8,245.1L512.0,245.1L452.3,245.2L392.5,245.4L332.8,245.6L273.0,245.7L213.3,245.9L153.5,246.1L153.5,255.9L153.5,266.9L153.5,277.8L153.5,288.8L153.5,299.8L153.5,310.7L153.5,321.7L153.5,332.6L153.5,343.6L153.5,354.6L153.5,365.5L153.5,376.5L153.5,387.5L153.5,398.4Z" fill="#0abafa"/>
<path d="M153.5,409.4L213.3,409.4L273.0,409.4L332.8,409.4L392.5,409.4L452.3,409.4L512.0,409.4L571.8,409.4L631.6,409.4L691.3,409.4L751.1,409.4L810.8,409.4L870.6,409.4L870.6,398.4L870.6,387.5L870.6,376.5L870.6,365.5L870.6,354.6L870.6,343.6L870.6,332.6L870.6,321.7L870.6,310.7L870.6,299.8L870.6,288.8L870.6,277.8L870.6,266.9L870.6,255.9L870.6,246.5L810.8,246.5L751.1,246.5L691.3,246.5L631.6,246.5L571.8,246.5L512.0,246.5L452.3,246.7L392.5,246.8L332.8,247.0L273.0,247.2L213.3,247.3L153.5,247.5L153.5,255.9L153.5,266.9L153.5,277.8L153.5,288.8L153.5,299.8L153.5,310.7L153.5,321.7L153.5,332.6L153.5,343.6L153.5,354.6L153.5,365.5L153.5,376.5L153.5,387.5L153.5,398.4Z" fill="#1eb9f8"/>
<path d="M153.5,409.4L213.3,409.4L273.0,409.4L332.8,409.4L392.5,409.4L452.3,409.4L512.0,409.4L571.8,409.4L631.6,409.4L691.3,409.4L751.1,409.4L810.8,409.4L870.6,409.4L870.6,398.4L870.6,387.5L870.6,376.5L870.6,365.5L870.6,354.6L870.6,343.6L870.6,332.6L870.6,321.7L870.6,310.7L870.6,299.8L870.6,288.8L870.6,277.8L870.6,266.9L870.6,255.9L870.6,247.9L810.8,247.9L751.1,247.9L691.3,247.9L631.6,247.9L571.8,247.9L512.0,247.9L452.3,248.1L392.5,248.3L332.8,248.4L273.0,248.6L213.3,248.8L153.5,248.9L153.5,255.9L153.5,266.9L153.5,277.8L153.5,288.8L153.5,299.8L153.5,310.7L153.5,321.7L153.5,332.6L153.5,343.6L153.5,354.6L153.5,365.5L153.5,376.5L153.5,387.5L153.5,398.4Z" fill="#2db8f5"/>
<path d="M153.5,409.4L213.3,409.4L273.0,409.4L332.8,409.4L392.5,409.4L452.3,409.4L512.0,409.4L571.8,409.4L631.6,409.4L691.3,409.4L751.1,409.4L810.8,409.4L870.6,409.4L870.6,398.4L870.6,387.5L870.6,376.5L870.6,365.5L870.6,354.6L870.6,343.6L870.6,332.6L870.6,321.7L870.6,310.7L870.6,299.8L870.6,288.8L870.6,277.8L870.6,266.9L870.6,255.9L870.6,249.3L810.8,249.3L751.1,249.3L691.3,249.3L631.6,249.3L571.8,249.3L512.0,249.3L452.3,249.5L392.5,249.7L332.8,249.8L273.0,250.0L213.3,250.2L153.5,250.3L153.5,255.9L153.5,266.9L153.5,277.8L153.5,288.8L153.5,299.8L153.5,310.7L153.5,321.7L153.5,332.6L153.5,343.6L153.5,354.6L153.5,365.5L153.5,376.5L153.5,387.5L153.5,398.4Z" fill="#41b9f2"/>
<path d="M153.5,409.4L213.3,409.4L273.0,409.4L332.8,409.4L392.5,409.4L452.3,409.4L512.0,409.4L571.8,409.4L631.6,409.4L691.3,409.4L751.1,409.4L810.8,409.4L870.6,409.4L870.6,398.4L870.6,387.5L870.6,376.5L870.6,365.5L870.6,354.6L870.6,343.6L870.6,332.6L870.6,321.7L870.6,310.7L870.6,299.8L870.6,288.8L870.6,277.8L870.6,266.9L870.6,255.9L870.6,250.8L810.8,250.8L751.1,250.8L691.3,250.8L631.6,250.8L571.8,250.8L512.0,250.8L452.3,250.9L392.5,251.1L332.8,251.3L273.0,251.4L213.3,251.6L153.5,251.8L153.5,255.9L153.5,266.9L153.5,277.8L153.5,288.8L153.5,299.8L153.5,310.7L153.5,321.7L153.5,332.6L153.5,343.6L153.5,354.6L153.5,365.5L153.5,376.5L153.5,387.5L153.5,398.4Z" fill="#55bcf0"/>
<path d="M153.5,409.4L213.3,409.4L273.0,409.4L332.8,409.4L392.5,409.4L452.3,409.4L512.0,409.4L571.8,409.4L631.6,409.4L691.3,409.4L751.1,409.4L810.8,409.4L870.6,409.4L870.6,398.4L870.6,387.5L870.6,376.5L870.6,365.5L870.6,354.6L870.6,343.6L870.6,332.6L870.6,321.7L870.6,310.7L870.6,299.8L870.6,288.8L870.6,277.8L870.6,266.9L870.6,255.9L870.6,252.2L810.8,252.2L751.1,252.2L691.3,252.2L631.6,252.2L571.8,252.2L512.0,252.2L452.3,252.4L392.5,252.5L332.8,252.7L273.0,252.9L213.3,253.0L153.5,253.2L153.5,255.9L153.5,266.9L153.5,277.8L153.5,288.8L153.5,299.8L153.5,310.7L153.5,321.7L153.5,332.6L153.5,343.6L153.5,354.6L153.5,365.5L153.5,376.5L153.5,387.5L153.5,398.4Z" fill="#69c0ee"/>
<path d="M153.5,409.4L213.3,409.4L273.0,409.4L332.8,409.4L392.5,409.4L452.3,409.4L512.0,409.4L571.8,409.4L631.6,409.4L691.3,409.4L751.1,409.4L810.8,409.4L870.6,409.4L870.6,398.4L870.6,387.5L870.6,376.5L870.6,365.5L870.6,354.6L870.6,343.6L870.6,332.6L870.6,321.7L870.6,310.7L870.6,299.8L870.6,288.8L870.6,277.8L870.6,266.9L870.6,255.9L870.6,253.6L810.8,253.6L751.1,253.6L691.3,253.6L631.6,253.6L571.8,253.6L512.0,253.6L452.3,253.8L392.5,254.0L332.8,254.1L273.0,254.3L213.3,254.5L153.5,254.6L153.5,255.9L153.5,266.9L153.5,277.8L153.5,288.8L153.5,299.8L153.5,310.7L153.5,321.7L153.5,332.6L153.5,343.6L153.5,354.6L153.5,365.5L153.5,376.5L153.5,387.5L153.5,398.4Z" fill="#82c6ee"/>
<path d="M153.5,409.4L213.3,409.4L273.0,409.4L332.8,409.4L392.5,409.4L452.3,409.4L512.0,409.4L571.8,409.4L631.6,409.4L691.3,409.4L751.1,409.4L810.8,409.4L870.6,409.4L870.6,398.4L870.6,387.5L870.6,376.5L870.6,365.5L870.6,354.6L870.6,343.6L870.6,332.6L870.6,321.7L870.6,310.7L870.6,299.8L870.6,288.8L870.6,277.8L870.6,266.9L870.6,255.9L870.6,255.0L810.8,255.0L751.1,255.0L691.3,255.0L631.6,255.0L571.8,255.0L512.0,255.0L452.3,255.2L392.5,255.4L332.8,255.5L273.0,255.7L213.3,255.9L204.7,255.9L153.5,256.0L153.5,266.9L153.5,277.8L153.5,288.8L153.5,299.8L153.5,310.7L153.5,321.7L153.5,332.6L153.5,343.6L153.5,354.6L153.5,365.5L153.5,376.5L153.5,387.5L153.5,398.4Z" fill="#8fccf0"/>
<path d="M153.5,409.4L213.3,409.4L273.0,409.4L332.8,409.4L392.5,409.4L452.3,409.4L512.0,409.4L571.8,409.4L631.6,409.4L691.3,409.4L751.1,409.4L810.8,409.4L870.6,409.4L870.6,398.4L870.6,387.5L870.6,376.5L870.6,365.5L870.6,354.6L870.6,343.6L870.6,332.6L870.6,321.7L870.6,310.7L870.6,299.8L870.6,288.8L870.6,277.8L870.6,266.9L870.6,256.5L810.8,256.5L751.1,256.5L691.3,256.5L631.6,256.5L571.8,256.5L512.0,256.5L452.3,256.6L392.5,256.8L332.8,257.0L273.0,257.2L213.3,257.3L153.5,257.5L153.5,266.9L153.5,277.8L153.5,288.8L153.5,299.8L153.5,310.7L153.5,321.7L153.5,332.6L153.5,343.6L153.5,354.6L153.5,365.5L153.5,376.5L153.5,387.5L153.5,398.4Z" fill="#98d0f0"/>
<path d="M153.5,409.4L213.3,409.4L273.0,409.4L332.8,409.4L392.5,409.4L452.3,409.4L512.0,409.4L571.8,409.4L631.6,409.4L691.3,409.4L751.1,409.4L810.8,409.4L870.6,409.4L870.6,398.4L870.6,387.5L870.6,376.5L870.6,365.5L870.6,354.6L870.6,343.6L870.6,332.6L870.6,321.7L870.6,310.7L870.6,299.8L870.6,288.8L870.6,277.8L870.6,266.9L870.6,257.9L810.8,257.9L751.1,257.9L691.3,257.9L631.6,257.9L571.8,257.9L512.0,257.9L452.3,258.1L392.5,258.3L332.8,258.4L273.0,258.6L213.3,258.8L153.5,258.9L153.5,266.9L153.5,277.8L153.5,288.8L153.5,299.8L153.5,310.7L153.5,321.7L153.5,332.6L153.5,343.6L153.5,354.6L153.5,365.5L153.5,376.5L153.5,387.5L153.5,398.4Z" fill="#a0d4f1"/>
<path d="M153.5,409.4L213.3,409.4L273.0,409.4L332.8,409.4L392.5,409.4L452.3,409.4L512.0,409.4L571.8,409.4L631.6,409.4L691.3,409.4L751.1,409.4L810.8,409.4L870.6,409.4L870.6,398.4L870.6,387.5L870.6,376.5L870.6,365.5L870.6,354.6L870.6,343.6L870.6,332.6L870.6,321.7L870.6,310.7L870.6,299.8L870.6,288.8L870.6,277.8L870.6,266.9L870.6,259.4L810.8,259.4L751.1,259.4L691.3,259.4L631.6,259.4L571.8,259.4L512.0,259.4L452.3,259.5L392.5,259.7L332.8,259.9L273.0,260.0L213.3,260.2L153.5,260.4L153.5,266.9L153.5,277.8L153.5,288.8L153.5,299.8L153.5,310.7L153.5,321.7L153.5,332.6L153.5,343.6L153.5,354.6L153.5,365.5L153.5,376.5L153.5,387.5L153.5,398.4Z" fill="#a8d8f2"/>
<path d="M153.5,409.4L213.3,409.4L273.0,409.4L332.8,409.4L392.5,409.4L452.3,409.4L512.0,409.4L571.8,409.4L631.6,409.4L691.3,409.4L751.1,409.4L810.8,409.4L870.6,409.4L870.6,398.4L870.6,387.5L870.6,376.5L870.6,365.5L870.6,354.6L870.6,343.6L870.6,332.6L870.6,321.7L870.6,310.7L870.6,299.8L870.6,288.8L870.6,277.8L870.6,266.9L870.6,260.8L810.8,260.8L751.1,260.8L691.3,260.8L631.6,260.8L571.8,260.8L512.0,260.8L452.3,261.0L392.5,261.1L332.8,261.3L273.0,261.5L213.3,261.6L153.5,261.8L153.5,266.9L153.5,277.8L153.5,288.8L153.5,299.8L153.5,310.7L153.5,321.7L153.5,332.6L153.5,343.6L153.5,354.6L153.5,365.5L153.5,376.5L153.5,387.5L153.5,398.4Z" fill="#afdcf3"/>
<path d="M153.5,409.4L213.3,409.4L273.0,409.4L332.8,409.4L392.5,409.4L452.3,409.4L512.0,409.4L571.8,409.4L631.6,409.4L691.3,409.4L751.1,409.4L810.8,409.4L870.6,409.4L870.6,398.4L870.6,387.5L870.6,376.5L870.6,365.5L870.6,354.6L870.6,343.6L870.6,332.6L870.6,321.7L870.6,310.7L870.6,299.8L870.6,288.8L870.6,277.8L870.6,266.9L870.6,262.2L810.8,262.2L751.1,262.2L691.3,262.2L631.6,262.2L571.8,262.2L512.0,262.2L452.3,262.4L392.5,262.6L332.8,262.8L273.0,262.9L213.3,263.1L153.5,263.3L153.5,266.9L153.5,277.8L153.5,288.8L153.5,299.8L153.5,310.7L153.5,321.7L153.5,332.6L153.5,343.6L153.5,354.6L153.5,365.5L153.5,376.5L153.5,387.5L153.5,398.4Z" fill="#b9e0f4"/>
<path d="M153.5,409.4L213.3,409.4L273.0,409.4L332.8,409.4L392.5,409.4L452.3,409.4L512.0,409.4L571.8,409.4L631.6,409.4L691.3,409.4L751.1,409.4L810.8,409.4L870.6,409.4L870.6,398.4L870.6,387.5L870.6,376.5L870.6,365.5L870.6,354.6L870.6,343.6L870.6,332.6L870.6,321.7L870.6,310.7L870.6,299.8L870.6,288.8L870.6,277.8L870.6,266.9L870.6,263.7L810.8,263.7L751.1,263.7L691.3,263.7L631.6,263.7L571.8,263.7L512.0,263.7L452.3,263.9L392.5,264.0L332.8,264.2L273.0,264.4L213.3,264.5L153.5,264.7L153.5,266.9L153.5,277.8L153.5,288.8L153.5,299.8L153.5,310.7L153.5,321.7L153.5,332.6L153.5,343.6L153.5,354.6L153.5,365.5L153.5,376.5L153.5,387.5L153.5,398.4Z" fill="#c3e4f5"/>
<path d="M153.5,409.4L213.3,409.4L273.0,409.4L332.8,409.4L392.5,409.4L452.3,409.4L512.0,409.4L571.8,409.4L631.6,409.4L691.3,409.4L751.1,409.4L810.8,409.4L870.6,409.4L870.6,398.4L870.6,387.5L870.6,376.5L870.6,365.5L870.6,354.6L870.6,343.6L870.6,332.6L870.6,321.7L870.6,310.7L870.6,299.8L870.6,288.8L870.6,277.8L870.6,266.9L870.6,265.1L810.8,265.1L751.1,265.1L691.3,265.1L631.6,265.1L571.8,265.1L512.0,265.1L452.3,265.3L392.5,265.5L332.8,265.6L273.0,265.8L213.3,266.0L153.5,266.1L153.5,266.9L153.5,277.8L153.5,288.8L153.5,299.8L153.5,310.7L153.5,321.7L153.5,332.6L153.5,343.6L153.5,354.6L153.5,365.5L153.5,376.5L153.5,387.5L153.5,398.4Z" fill="#cde8f6"/>
<path d="M153.5,409.4L213.3,409.4L273.0,409.4L332.8,409.4L392.5,409.4L452.3,409.4L512.0,409.4L571.8,409.4L631.6,409.4L691.3,409.4L751.1,409.4L810.8,409.4L870.6,409.4L870.6,398.4L870.6,387.5L870.6,376.5L870.6,365.5L870.6,354.6L870.6,343.6L870.6,332.6L870.6,321.7L870.6,310.7L870.6,299.8L870.6,288.8L870.6,277.8L870.6,266.9L870.6,266.6L810.8,266.6L751.1,266.6L691.3,266.6L631.6,266.6L571.8,266.6L512.0,266.6L452.3,266.7L409.6,266.9L392.5,266.9L332.8,267.1L273.0,267.3L213.3,267.5L153.5,267.6L153.5,277.8L153.5,288.8L153.5,299.8L153.5,310.7L153.5,321.7L153.5,332.6L153.5,343.6L153.5,354.6L153.5,365.5L153.5,376.5L153.5,387.5L153.5,398.4Z" fill="#fffdc6"/>
<path d="M153.5,409.4L213.3,409.4L273.0,409.4L332.8,409.4L392.5,409.4L452.3,409.4L512.0,409.4L571.8,409.4L631.6,409.4L691.3,409.4L751.1,409.4L810.8,409.4L870.6,409.4L870.6,398.4L870.6,387.5L870.6,376.5L870.6,365.5L870.6,354.6L870.6,343.6L870.6,332.6L870.6,321.7L870.6,310.7L870.6,299.8L870.6,288.8L870.6,277.8L870.6,268.2L810.8,268.2L751.1,268.2L691.3,268.2L631.6,268.2L571.8,268.2L512.0,268.2L452.3,268.4L392.5,268.5L332.8,268.7L273.0,268.9L213.3,269.0L153.5,269.1L153.5,277.8L153.5,288.8L153.5,299.8L153.5,310.7L153.5,321.7L153.5,332.6L153.5,343.6L153.5,354.6L153.5,365.5L153.5,376.5L153.5,387.5L153.5,398.4Z" fill="#fffcb6"/>
<path d="M153.5,409.4L213.3,409.4L273.0,409.4L332.8,409.4L392.5,409.4L452.3,409.4L512.0,409.4L571.8,409.4L631.6,409.4L691.3,409.4L751.1,409.4L810.8,409.4L870.6,409.4L870.6,398.4L870.6,387.5L870.6,376.5L870.6,365.5L870.6,354.6L870.6,343.6L870.6,332.6L870.6,321.7L870.6,310.7L870.6,299.8L870.6,288.8L870.6,277.8L870.6,269.9L810.8,269.9L751.1,269.9L691.3,269.9L631.6,269.9L571.8,269.9L512.0,269.9L452.3,270.0L392.5,270.2L332.8,270.3L273.0,270.4L213.3,270.6L153.5,270.7L153.5,277.8L153.5,288.8L153.5,299.8L153.5,310.7L153.5,321.7L153.5,332.6L153.5,343.6L153.5,354.6L153.5,365.5L153.5,376.5L153.5,387.5L153.5,398.4Z" fill="#fffaa5"/>
<path d="M153.5,409.4L213.3,409.4L273.0,409.4L332.8,409.4L392.5,409.4L452.3,409.4L512.0,409.4L571.8,409.4L631.6,409.4L691.3,409.4L751.1,409.4L810.8,409.4L870.6,409.4L870.6,398.4L870.6,387.5L870.6,376.5L870.6,365.5L870.6,354.6L870.6,343.6L870.6,332.6L870.6,321.7L870.6,310.7L870.6,299.8L870.6,288.8L870.6,277.8L870.6,271.6L810.8,271.6L751.1,271.6L691.3,271.6L631.6,271.6L571.8,271.6L512.0,271.6L452.3,271.7L392.5,271.8L332.8,271.9L273.0,272.0L213.3,272.1L153.5,272.2L153.5,277.8L153.5,288.8L153.5,299.8L153.5,310.7L153.5,321.7L153.5,332.6L153.5,343.6L153.5,354.6L153.5,365.5L153.5,376.5L153.5,387.5L153.5,398.4Z" fill="#fff791"/>
<path d="M153.5,409.4L213.3,409.4L273.0,409.4L332.8,409.4L392.5,409.4L452.3,409.4L512.0,409.4L571.8,409.4L631.6,409.4L691.3,409.4L751.1,409.4L810.8,409.4L870.6,409.4L870.6,398.4L870.6,387.5L870.6,376.5L870.6,365.5L870.6,354.6L870.6,343.6L870.6,332.6L870.6,321.7L870.6,310.7L870.6,299.8L870.6,288.8L870.6,277.8L870.6,273.3L810.8,273.3L751.1,273.3L691.3,273.3L631.6,273.3L571.8,273.3L512.0,273.3L452.3,273.4L392.5,273.4L332.8,273.5L273.0,273.6L213.3,273.6L153.5,273.7L153.5,277.8L153.5,288.8L153.5,299.8L153.5,310.7L153.5,321.7L153.5,332.6L153.5,343.6L153.5,354.6L153.5,365.5L153.5,376.5L153.5,387.5L153.5,398.4Z" fill="#fff47d"/>
<path d="M153.5,409.4L213.3,409.4L273.0,409.4L332.8,409.4L392.5,409.4L452.3,409.4L512.0,409.4L571.8,409.4L631.6,409.4L691.3,409.4L751.1,409.4L810.8,409.4L870.6,409.4L870.6,398.4L870.6,387.5L870.6,376.5L870.6,365.5L870.6,354.6L870.6,343.6L870.6,332.6L870.6,321.7L870.6,310.7L870.6,299.8L870.6,288.8L870.6,277.8L870.6,275.0L810.8,275.0L751.1,275.0L691.3,275.0L631.6,275.0L571.8,275.0L512.0,275.0L452.3,275.0L392.5,275.1L332.8,275.1L273.0,275.2L213.3,275.2L153.5,275.2L153.5,277.8L153.5,288.8L153.5,299.8L153.5,310.7L153.5,321.7L153.5,332.6L153.5,343.6L153.5,354.6L153.5,365.5L153.5,376.5L153.5,387.5L153.5,398.4Z" fill="#fff069"/>
<path d="M153.5,409.4L213.3,409.4L273.0,409.4L332.8,409.4L392.5,409.4L452.3,409.4L512.0,409.4L571.8,409.4L631.6,409.4L691.3,409.4L751.1,409.4L810.8,409.4L870.6,409.4L870.6,398.4L870.6,387.5L870.6,376.5L870.6,365.5L870.6,354.6L870.6,343.6L870.6,332.6L870.6,321.7L870.6,310.7L870.6,299.8L870.6,288.8L870.6,277.8L870.6,276.6L810.8,276.6L751.1,276.6L691.3,276.6L631.6,276.6L571.8,276.6L512.0,276.6L452.3,276.7L392.5,276.7L332.8,276.7L273.0,276.7L213.3,276.7L153.5,276.8L153.5,277.8L153.5,288.8L153.5,299.8L153.5,310.7L153.5,321.7L153.5,332.6L153.5,343.6L153.5,354.6L153.5,365.5L153.5,376.5L153.5,387.5L153.5,398.4Z" fill="#ffec55"/>
<path d="M153.5,409.4L213.3,409.4L273.0,409.4L332.8,409.4L392.5,409.4L452.3,409.4L512.0,409.4L571.8,409.4L631.6,409.4L691.3,409.4L751.1,409.4L810.8,409.4L870.6,409.4L870.6,398.4L870.6,387.5L870.6,376.5L870.6,365.5L870.6,354.6L870.6,343.6L870.6,332.6L870.6,321.7L870.6,310.7L870.6,299.8L870.6,288.8L870.6,278.8L810.8,278.8L751.1,278.8L691.3,278.8L631.6,278.8L571.8,278.8L512.0,278.8L452.3,278.8L392.5,278.8L332.8,278.8L273.0,278.8L213.3,278.8L153.5,278.8L153.5,288.8L153.5,299.8L153.5,310.7L153.5,321.7L153.5,332.6L153.5,343.6L153.5,354.6L153.5,365.5L153.5,376.5L153.5,387.5L153.5,398.4Z" fill="#ffe841"/>
<path d="M153.5,409.4L213.3,409.4L273.0,409.4L332.8,409.4L392.5,409.4L452.3,409.4L512.0,409.4L571.8,409.4L631.6,409.4L691.3,409.4L751.1,409.4L810.8,409.4L870.6,409.4L870.6,398.4L870.6,387.5L870.6,376.5L870.6,365.5L870.6,354.6L870.6,343.6L870.6,332.6L870.6,321.7L870.6,310.7L870.6,299.8L870.6,288.8L870.6,282.1L810.8,282.1L751.1,282.1L691.3,282.1L631.6,282.1L571.8,282.1L512.0,282.1L452.3,282.1L392.5,282.1L332.8,282.1L273.0,282.1L213.3,282.1L153.5,282.1L153.5,288.8L153.5,299.8L153.5,310.7L153.5,321.7L153.5,332.6L153.5,343.6L153.5,354.6L153.5,365.5L153.5,376.5L153.5,387.5L153.5,398.4Z" fill="#ffe432"/>
<path d="M153.5,409.4L213.3,409.4L273.0,409.4L332.8,409.4L392.5,409.4L452.3,409.4L512.0,409.4L571.8,409.4L631.6,409.4L691.3,409.4L751.1,409.4L810.8,409.4L870.6,409.4L870.6,398.4L870.6,387.5L870.6,376.5L870.6,365.5L870.6,354.6L870.6,343.6L870.6,332.6L870.6,321.7L870.6,310.7L870.6,299.8L870.6,288.8L870.6,285.5L810.8,285.5L751.1,285.5L691.3,285.5L631.6,285.5L571.8,285.5L512.0,285.5L452.3,285.5L392.5,285.5L332.8,285.5L273.0,285.5L213.3,285.5L153.5,285.5L153.5,288.8L153.5,299.8L153.5,310.7L153.5,321.7L153.5,332.6L153.5,343.6L153.5,354.6L153.5,365.5L153.5,376.5L153.5,387.5L153.5,398.4Z" fill="#ffdc2a"/>
<path d="M153.5,409.4L213.3,409.4L273.0,409.4L332.8,409.4L392.5,409.4L452.3,409.4L512.0,409.4L571.8,409.4L631.6,409.4L691.3,409.4L751.1,409.4L810.8,409.4L870.6,409.4L870.6,398.4L870.6,387.5L870.6,376.5L870.6,365.5L870.6,354.6L870.6,343.6L870.6,332.6L870.6,321.7L870.6,310.7L870.6,299.8L870.6,288.8L810.8,288.8L751.1,288.8L691.3,288.8L631.6,288.8L571.8,288.8L512.0,288.8L452.3,288.8L392.5,288.8L332.8,288.8L273.0,288.8L213.3,288.8L153.5,288.8L153.5,299.8L153.5,310.7L153.5,321.7L153.5,332.6L153.5,343.6L153.5,354.6L153.5,365.5L153.5,376.5L153.5,387.5L153.5,398.4Z" fill="#ffd523"/>
<path d="M153.5,409.4L213.3,409.4L273.0,409.4L332.8,409.4L392.5,409.4L452.3,409.4L512.0,409.4L571.8,409.4L631.6,409.4L691.3,409.4L751.1,409.4L810.8,409.4L870.6,409.4L870.6,398.4L870.6,387.5L870.6,376.5L870.6,365.5L870.6,354.6L870.6,343.6L870.6,332.6L870.6,321.7L870.6,310.7L870.6,299.8L870.6,291.5L810.8,291.5L751.1,291.5L691.3,291.5L631.6,291.5L571.8,291.5L512.0,291.5L452.3,291.5L392.5,291.5L332.8,291.5L273.0,291.5L213.3,291.5L153.5,291.5L153.5,299.8L153.5,310.7L153.5,321.7L153.5,332.6L153.5,343.6L153.5,354.6L153.5,365.5L153.5,376.5L153.5,387.5L153.5,398.4Z" fill="#ffcd1c"/>
<path d="M153.5,409.4L213.3,409.4L273.0,409.4L332.8,409.4L392.5,409.4L452.3,409.4L512.0,409.4L571.8,409.4L631.6,409.4L691.3,409.4L751.1,409.4L810.8,409.4L870.6,409.4L870.6,398.4L870.6,387.5L870.6,376.5L870.6,365.5L870.6,354.6L870.6,343.6L870.6,332.6L870.6,321.7L870.6,310.7L870.6,299.8L870.6,294.3L810.8,294.3L751.1,294.3L691.3,294.3L631.6,294.3L571.8,294.3L512.0,294.3L452.3,294.3L392.5,294.3L332.8,294.3L273.0,294.3L213.3,294.3L153.5,294.3L153.5,299.8L153.5,310.7L153.5,321.7L153.5,332.6L153.5,343.6L153.5,354.6L153.5,365.5L153.5,376.5L153.5,387.5L153.5,398.4Z" fill="#ffc414"/>
<path d="M153.5,409.4L213.3,409.4L273.0,409.4L332.8,409.4L392.5,409.4L452.3,409.4L512.0,409.4L571.8,409.4L631.6,409.4L691.3,409.4L751.1,409.4L810.8,409.4L870.6,409.4L870.6,398.4L870.6,387.5L870.6,376.5L870.6,365.5L870.6,354.6L870.6,343.6L870.6,332.6L870.6,321.7L870.6,310.7L870.6,299.8L870.6,297.0L810.8,297.0L751.1,297.0L691.3,297.0L631.6,297.0L571.8,297.0L512.0,297.0L452.3,297.0L392.5,297.0L332.8,297.0L273.0,297.0L213.3,297.0L153.5,297.0L153.5,299.8L153.5,310.7L153.5,321.7L153.5,332.6L153.5,343.6L153.5,354.6L153.5,365.5L153.5,376.5L153.5,387.5L153.5,398.4Z" fill="#ffbc0f"/>
<path d="M153.5,409.4L213.3,409.4L273.0,409.4L332.8,409.4L392.5,409.4L452.3,409.4L512.0,409.4L571.8,409.4L631.6,409.4L691.3,409.4L751.1,409.4L810.8,409.4L870.6,409.4L870.6,398.4L870.6,387.5L870.6,376.5L870.6,365.5L870.6,354.6L870.6,343.6L870.6,332.6L870.6,321.7L870.6,310.7L870.6,299.8L810.8,299.8L751.1,299.8L691.3,299.8L631.6,299.8L571.8,299.8L512.0,299.8L452.3,299.8L392.5,299.8L332.8,299.8L273.0,299.8L213.3,299.8L153.5,299.8L153.5,310.7L153.5,321.7L153.5,332.6L153.5,343.6L153.5,354.6L153.5,365.5L153.5,376.5L153.5,387.5L153.5,398.4Z" fill="#ffb40a"/>
<path d="M153.5,409.4L213.3,409.4L273.0,409.4L332.8,409.4L392.5,409.4L452.3,409.4L512.0,409.4L571.8,409.4L631.6,409.4L691.3,409.4L751.1,409.4L810.8,409.4L870.6,409.4L870.6,398.4L870.6,387.5L870.6,376.5L870.6,365.5L870.6,354.6L870.6,343.6L870.6,332.6L870.6,321.7L870.6,310.7L870.6,302.9L810.8,302.8L751.1,302.6L691.3,302.5L631.6,302.5L571.8,302.6L512.0,302.6L452.3,302.8L392.5,302.9L332.8,303.1L273.0,303.2L213.3,303.2L153.5,303.2L153.5,310.7L153.5,321.7L153.5,332.6L153.5,343.6L153.5,354.6L153.5,365.5L153.5,376.5L153.5,387.5L153.5,398.4Z" fill="#ffac05"/>
<path d="M153.5,409.4L213.3,409.4L273.0,409.4L332.8,409.4L392.5,409.4L452.3,409.4L512.0,409.4L571.8,409.4L631.6,409.4L691.3,409.4L751.1,409.4L810.8,409.4L870.6,409.4L870.6,398.4L870.6,387.5L870.6,376.5L870.6,365.5L870.6,354.6L870.6,343.6L870.6,332.6L870.6,321.7L870.6,310.7L870.6,306.0L810.8,305.8L751.1,305.5L691.3,305.2L631.6,305.2L571.8,305.4L512.0,305.5L452.3,305.8L392.5,306.0L332.8,306.4L273.0,306.6L213.3,306.6L153.5,306.6L153.5,310.7L153.5,321.7L153.5,332.6L153.5,343.6L153.5,354.6L153.5,365.5L153.5,376.5L153.5,387.5L153.5,398.4Z" fill="#ffa500"/>
<path d="M153.5,409.4L213.3,409.4L273.0,409.4L332.8,409.4L392.5,409.4L452.3,409.4L512.0,409.4L571.8,409.4L631.6,409.4L691.3,409.4L751.1,409.4L810.8,409.4L870.6,409.4L870.6,398.4L870.6,387.5L870.6,376.5L870.6,365.5L870.6,354.6L870.6,343.6L870.6,332.6L870.6,321.7L870.6,310.7L870.6,309.2L810.8,308.9L751.1,308.4L691.3,308.0L631.6,308.0L571.8,308.2L512.0,308.4L452.3,308.9L392.5,309.2L332.8,309.7L273.0,310.0L213.3,310.0L153.5,310.0L153.5,310.7L153.5,321.7L153.5,332.6L153.5,343.6L153.5,354.6L153.5,365.5L153.5,376.5L153.5,387.5L153.5,398.4Z" fill="#ff9e00"/>
<path d="M153.5,409.4L213.3,409.4L273.0,409.4L332.8,409.4L392.5,409.4L452.3,409.4L512.0,409.4L571.8,409.4L631.6,409.4L691.3,409.4L751.1,409.4L810.8,409.4L870.6,409.4L870.6,398.4L870.6,387.5L870.6,376.5L870.6,365.5L870.6,354.6L870.6,343.6L870.6,332.6L870.6,321.7L870.6,312.4L810.8,312.0L751.1,311.3L691.3,310.7L631.6,310.7L571.8,311.0L512.0,311.3L452.3,312.1L392.5,312.4L332.8,313.2L273.0,313.9L213.3,313.6L153.5,313.3L153.5,321.7L153.5,332.6L153.5,343.6L153.5,354.6L153.5,365.5L153.5,376.5L153.5,387.5L153.5,398.4Z" fill="#ff9600"/>
<path d="M153.5,409.4L213.3,409.4L273.0,409.4L332.8,409.4L392.5,409.4L417.4,409.4L452.3,400.9L462.7,409.4L512.0,409.4L571.8,409.4L631.6,409.4L691.3,409.4L751.1,409.4L810.8,409.4L850.7,409.4L870.6,407.6L870.6,398.4L870.6,387.5L870.6,376.5L870.6,365.5L870.6,354.6L870.6,343.6L870.6,332.6L870.6,321.7L870.6,315.7L810.8,315.2L751.1,314.4L691.3,313.5L631.6,313.5L571.8,314.1L512.0,314.5L452.3,315.4L392.5,315.7L332.8,316.7L273.0,317.8L213.3,317.1L153.5,316.5L153.5,321.7L153.5,332.6L153.5,343.6L153.5,354.6L153.5,365.5L153.5,376.5L153.5,387.5L153.5,398.4Z" fill="#ff8e00"/>
<path d="M153.5,409.4L213.3,409.4L273.0,409.4L332.8,409.4L362.7,409.4L392.5,407.0L433.9,398.4L452.3,394.4L465.6,398.4L477.7,409.4L512.0,409.4L571.8,409.4L631.6,409.4L691.3,409.4L751.1,409.4L810.8,409.4L810.8,409.4L870.6,403.9L870.6,398.4L870.6,387.5L870.6,376.5L870.6,365.5L870.6,354.6L870.6,343.6L870.6,332.6L870.6,321.7L870.6,319.0L810.8,318.5L751.1,317.4L691.3,316.2L631.6,316.2L571.8,317.1L512.0,317.6L452.3,318.7L392.5,319.0L332.8,320.3L273.0,321.7L273.0,321.7L273.0,321.7L213.3,320.6L153.5,319.8L153.5,321.7L153.5,332.6L153.5,343.6L153.5,354.6L153.5,365.5L153.5,376.5L153.5,387.5L153.5,398.4Z" fill="#ff8700"/>
<path d="M153.5,409.4L213.3,409.4L273.0,409.4L312.9,409.4L332.8,406.2L392.5,402.2L410.9,398.4L452.3,389.5L482.2,398.4L492.6,409.4L512.0,409.4L571.8,409.4L631.6,409.4L691.3,409.4L751.1,409.4L797.9,409.4L810.8,405.6L870.6,400.3L870.6,398.4L870.6,387.5L870.6,376.5L870.6,365.5L870.6,354.6L870.6,343.6L870.6,332.6L870.6,322.8L810.8,321.7L810.8,321.7L751.1,320.5L691.3,318.9L631.6,318.9L571.8,320.2L512.0,320.7L467.2,321.7L452.3,322.0L392.5,322.4L332.8,323.6L273.0,328.5L213.3,324.8L153.5,323.9L153.5,332.6L153.5,343.6L153.5,354.6L153.5,365.5L153.5,376.5L153.5,387.5L153.5,398.4Z" fill="#ff8000"/>
<path d="M153.5,409.4L213.3,409.4L273.0,409.4L273.0,409.4L332.8,399.7L362.7,398.4L392.5,397.3L437.4,387.5L452.3,385.2L472.2,387.5L498.8,398.4L507.6,409.4L512.0,409.4L571.8,409.4L631.6,409.4L691.3,409.4L751.1,409.4L784.9,409.4L810.8,401.8L849.3,398.4L870.6,396.6L870.6,387.5L870.6,376.5L870.6,365.5L870.6,354.6L870.6,343.6L870.6,332.6L870.6,328.3L810.8,327.8L751.1,324.8L691.3,321.7L631.6,321.7L571.8,323.3L512.0,323.9L452.3,325.3L392.5,325.8L332.8,326.8L283.9,332.6L273.0,335.8L253.1,332.6L213.3,329.1L153.5,329.4L153.5,332.6L153.5,343.6L153.5,354.6L153.5,365.5L153.5,376.5L153.5,387.5L153.5,398.4Z" fill="#ff7700"/>
<path d="M153.5,409.4L213.3,409.4L233.2,409.4L273.0,398.4L273.0,398.4L332.8,393.3L392.5,391.9L412.5,387.5L452.3,381.4L505.4,387.5L512.0,393.0L518.7,398.4L526.0,409.4L571.8,409.4L631.6,409.4L691.3,409.4L751.1,409.4L771.9,409.4L808.8,398.4L810.8,398.1L870.6,393.0L870.6,387.5L870.6,376.5L870.6,365.5L870.6,354.6L870.6,343.6L870.6,334.5L810.8,334.5L793.8,332.6L751.1,330.0L691.3,326.1L631.6,325.3L571.8,326.5L512.0,327.0L452.3,328.7L392.5,329.2L332.8,330.1L311.0,332.6L273.0,343.6L273.0,343.6L273.0,343.6L213.3,334.1L153.5,336.8L153.5,343.6L153.5,354.6L153.5,365.5L153.5,376.5L153.5,387.5L153.5,398.4Z" fill="#ff6d00"/>
<path d="M153.5,409.4L206.3,409.4L213.3,405.6L242.4,398.4L273.0,392.7L326.8,387.5L332.8,387.0L392.5,386.4L452.3,377.6L477.9,376.5L512.0,374.2L571.8,374.3L578.4,376.5L574.1,387.5L571.8,389.0L551.9,398.4L545.9,409.4L571.8,409.4L631.6,409.4L691.3,409.4L751.1,409.4L758.9,409.4L788.2,398.4L810.8,394.5L870.6,389.3L870.6,387.5L870.6,376.5L870.6,365.5L870.6,354.6L870.6,343.6L810.8,343.6L810.8,343.6L751.1,337.6L721.2,332.6L691.3,330.5L631.6,329.0L571.8,329.7L512.0,330.1L452.3,332.0L392.5,332.6L392.5,332.6L332.8,334.2L300.2,343.6L273.0,348.4L227.0,343.6L213.3,341.4L185.7,343.6L153.5,347.7L153.5,354.6L153.5,365.5L153.5,376.5L153.5,387.5L153.5,398.4Z" fill="#ff6300"/>
<path d="M153.5,409.4L192.4,409.4L212.0,398.4L213.3,398.1L269.7,387.5L273.0,386.8L332.8,382.0L392.5,381.1L425.3,376.5L452.3,373.0L512.0,368.4L554.7,365.5L571.8,363.4L628.1,354.6L631.6,353.4L634.9,354.6L631.6,365.5L631.6,365.5L611.6,376.5L597.1,387.5L580.1,398.4L571.8,404.7L565.8,409.4L571.8,409.4L631.6,409.4L691.3,409.4L738.5,409.4L751.1,405.7L767.6,398.4L810.8,391.0L850.7,387.5L870.6,384.0L870.6,376.5L870.6,365.5L870.6,354.6L870.6,351.4L810.8,350.9L751.1,347.4L711.2,343.6L691.3,340.5L631.6,332.6L571.8,333.5L512.0,334.2L452.3,338.1L392.5,340.0L332.8,342.0L327.3,343.6L273.0,353.1L213.3,352.1L193.3,354.6L153.5,360.3L153.5,365.5L153.5,376.5L153.5,387.5L153.5,398.4Z" fill="#ff5700"/>
<path d="M153.5,409.4L178.5,409.4L186.6,398.4L213.3,391.9L236.5,387.5L273.0,380.4L332.8,377.0L356.7,376.5L392.5,374.3L452.3,368.0L482.2,365.5L512.0,360.1L554.7,354.6L571.8,349.7L589.4,343.6L571.8,341.6L512.0,342.0L482.2,343.6L452.3,346.1L392.5,349.1L332.8,352.4L319.5,354.6L273.0,361.0L239.8,365.5L213.3,369.5L153.5,376.5L153.5,376.5L153.5,387.5L153.5,398.4ZM586.2,409.4L631.6,409.4L691.3,409.4L707.1,409.4L742.2,398.4L751.1,397.0L810.8,387.5L810.8,387.5L870.6,377.2L870.6,376.5L870.6,365.5L870.6,360.1L810.8,359.6L751.1,356.8L691.3,356.9L670.1,365.5L645.6,376.5L631.6,381.4L620.1,387.5L600.7,398.4Z" fill="#ff4800"/>
<path d="M153.5,409.4L164.6,409.4L161.1,398.4L153.5,393.1L153.5,398.4ZM606.8,409.4L631.6,409.4L673.7,409.4L691.3,401.0L698.0,398.4L751.1,389.9L766.6,387.5L810.8,378.3L821.7,376.5L810.8,372.9L751.1,365.5L691.3,372.1L680.8,376.5L658.7,387.5L631.6,393.0L621.3,398.4Z" fill="#ff3d00"/>
<path d="M627.4,409.4L631.6,409.4L638.6,409.4L631.6,406.3Z" fill="#ff3200"/>
<path d="M870.6,193.0L810.8,193.0L751.1,193.0L691.3,193.0L631.6,193.0L571.8,193.0L512.0,193.0L452.3,193.0L392.5,193.0L332.8,193.0L273.0,193.4L213.3,191.5L153.5,193.4M153.5,186.0L213.3,187.4L253.1,179.1L273.0,177.6L332.8,174.3L392.5,174.3L452.3,174.3L512.0,174.3L571.8,174.3L631.6,174.3L691.3,174.3L751.1,174.3L810.8,174.3L870.6,174.3M870.6,198.8L810.8,198.8L751.1,198.8L691.3,198.8L631.6,198.8L571.8,198.8L512.0,198.8L452.3,198.8L392.5,198.8L332.8,198.8L273.0,198.9L213.3,198.3L153.5,198.9M153.5,179.1L213.3,174.8L273.0,172.4L332.8,168.2L332.8,168.2L392.5,168.2L452.3,168.2L512.0,168.2L571.8,168.2L631.6,168.2L691.3,168.2L751.1,168.2L810.8,168.2L870.6,168.2M870.6,113.4L870.6,113.4L810.8,112.9L751.1,112.4L691.3,111.9L631.6,111.5L571.8,111.0L512.0,110.6L452.3,110.6L392.5,110.6L332.8,110.6L292.9,113.4L273.0,114.5L243.1,113.4L213.3,112.1L153.5,105.6M870.6,202.1L810.8,202.1L751.1,202.1L691.3,202.1L631.6,202.1L571.8,202.1L512.0,202.1L452.3,202.1L392.5,202.1L332.8,202.1L273.0,202.1L213.3,202.1L153.5,202.1M153.5,173.4L194.9,168.2L213.3,163.8L273.0,166.6L332.8,162.1L392.5,162.1L452.3,162.1L512.0,162.1L571.8,161.4L631.6,160.5L691.3,159.4L751.1,157.9L772.8,157.2L810.8,156.3L870.6,155.0M870.6,124.3L870.6,124.3L810.8,124.0L751.1,123.6L691.3,123.2L631.6,122.9L571.8,122.5L512.0,122.1L452.3,122.1L392.5,122.1L332.8,122.1L292.9,124.3L273.0,125.3L213.3,126.3L205.8,124.3L153.5,113.7M870.6,203.7L810.8,203.7L751.1,203.7L691.3,203.7L631.6,203.7L571.8,203.7L512.0,203.7L452.3,203.7L392.5,203.7L332.8,203.7L273.0,203.7L213.3,203.7L153.5,203.7M153.5,167.2L196.2,157.2L213.3,153.6L253.1,157.2L273.0,158.8L302.9,157.2L332.8,155.0L392.5,155.0L452.3,155.0L512.0,155.0L571.8,153.3L631.6,151.8L691.3,150.5L751.1,149.3L810.8,148.3L870.6,147.4M870.6,134.3L810.8,133.5L751.1,132.9L691.3,132.2L631.6,131.6L571.8,129.1L512.0,130.6L452.3,130.6L392.5,130.6L332.8,130.6L273.0,135.3L273.0,135.3L213.3,136.5L209.0,135.3L168.4,124.3L153.5,121.3M870.6,205.4L810.8,205.4L751.1,205.4L691.3,205.4L631.6,205.4L571.8,205.4L512.0,205.4L452.3,205.4L392.5,205.4L332.8,205.4L273.0,205.4L213.3,205.4L153.5,205.4M153.5,157.2L196.2,146.3L166.3,135.3L153.5,131.6M559.9,135.3L571.8,138.0L580.8,135.3L571.8,134.7L559.9,135.3M870.6,207.1L810.8,207.1L751.1,207.1L691.3,207.1L631.6,207.1L571.8,207.1L512.0,207.1L452.3,207.1L392.5,207.1L332.8,207.1L273.0,207.1L213.3,207.1L153.5,207.1M870.6,208.7L810.8,208.7L751.1,208.7L691.3,208.7L631.6,208.7L571.8,208.7L512.0,208.7L452.3,208.7L392.5,208.7L332.8,208.7L273.0,208.7L213.3,208.7L153.5,208.7M870.6,266.6L810.8,266.6L751.1,266.6L691.3,266.6L631.6,266.6L571.8,266.6L512.0,266.6L452.3,266.7L409.6,266.9L392.5,266.9L332.8,267.1L273.0,267.3L213.3,267.5L153.5,267.6M870.6,268.2L810.8,268.2L751.1,268.2L691.3,268.2L631.6,268.2L571.8,268.2L512.0,268.2L452.3,268.4L392.5,268.5L332.8,268.7L273.0,268.9L213.3,269.0L153.5,269.1M870.6,269.9L810.8,269.9L751.1,269.9L691.3,269.9L631.6,269.9L571.8,269.9L512.0,269.9L452.3,270.0L392.5,270.2L332.8,270.3L273.0,270.4L213.3,270.6L153.5,270.7M870.6,271.6L810.8,271.6L751.1,271.6L691.3,271.6L631.6,271.6L571.8,271.6L512.0,271.6L452.3,271.7L392.5,271.8L332.8,271.9L273.0,272.0L213.3,272.1L153.5,272.2M870.6,273.3L810.8,273.3L751.1,273.3L691.3,273.3L631.6,273.3L571.8,273.3L512.0,273.3L452.3,273.4L392.5,273.4L332.8,273.5L273.0,273.6L213.3,273.6L153.5,273.7M870.6,275.0L810.8,275.0L751.1,275.0L691.3,275.0L631.6,275.0L571.8,275.0L512.0,275.0L452.3,275.0L392.5,275.1L332.8,275.1L273.0,275.2L213.3,275.2L153.5,275.2M870.6,276.6L810.8,276.6L751.1,276.6L691.3,276.6L631.6,276.6L571.8,276.6L512.0,276.6L452.3,276.7L392.5,276.7L332.8,276.7L273.0,276.7L213.3,276.7L153.5,276.8M870.6,278.8L810.8,278.8L751.1,278.8L691.3,278.8L631.6,278.8L571.8,278.8L512.0,278.8L452.3,278.8L392.5,278.8L332.8,278.8L273.0,278.8L213.3,278.8L153.5,278.8M870.6,282.1L810.8,282.1L751.1,282.1L691.3,282.1L631.6,282.1L571.8,282.1L512.0,282.1L452.3,282.1L392.5,282.1L332.8,282.1L273.0,282.1L213.3,282.1L153.5,282.1M870.6,285.5L810.8,285.5L751.1,285.5L691.3,285.5L631.6,285.5L571.8,285.5L512.0,285.5L452.3,285.5L392.5,285.5L332.8,285.5L273.0,285.5L213.3,285.5L153.5,285.5M870.6,288.8L810.8,288.8L751.1,288.8L691.3,288.8L631.6,288.8L571.8,288.8L512.0,288.8L452.3,288.8L392.5,288.8L332.8,288.8L273.0,288.8L213.3,288.8L153.5,288.8M870.6,291.5L810.8,291.5L751.1,291.5L691.3,291.5L631.6,291.5L571.8,291.5L512.0,291.5L452.3,291.5L392.5,291.5L332.8,291.5L273.0,291.5L213.3,291.5L153.5,291.5M870.6,294.3L810.8,294.3L751.1,294.3L691.3,294.3L631.6,294.3L571.8,294.3L512.0,294.3L452.3,294.3L392.5,294.3L332.8,294.3L273.0,294.3L213.3,294.3L153.5,294.3M870.6,297.0L810.8,297.0L751.1,297.0L691.3,297.0L631.6,297.0L571.8,297.0L512.0,297.0L452.3,297.0L392.5,297.0L332.8,297.0L273.0,297.0L213.3,297.0L153.5,297.0M870.6,299.8L810.8,299.8L751.1,299.8L691.3,299.8L631.6,299.8L571.8,299.8L512.0,299.8L452.3,299.8L392.5,299.8L332.8,299.8L273.0,299.8L213.3,299.8L153.5,299.8M870.6,302.9L810.8,302.8L751.1,302.6L691.3,302.5L631.6,302.5L571.8,302.6L512.0,302.6L452.3,302.8L392.5,302.9L332.8,303.1L273.0,303.2L213.3,303.2L153.5,303.2M870.6,306.0L810.8,305.8L751.1,305.5L691.3,305.2L631.6,305.2L571.8,305.4L512.0,305.5L452.3,305.8L392.5,306.0L332.8,306.4L273.0,306.6L213.3,306.6L153.5,306.6M870.6,309.2L810.8,308.9L751.1,308.4L691.3,308.0L631.6,308.0L571.8,308.2L512.0,308.4L452.3,308.9L392.5,309.2L332.8,309.7L273.0,310.0L213.3,310.0L153.5,310.0M870.6,312.4L810.8,312.0L751.1,311.3L691.3,310.7L631.6,310.7L571.8,311.0L512.0,311.3L452.3,312.1L392.5,312.4L332.8,313.2L273.0,313.9L213.3,313.6L153.5,313.3M417.4,409.4L452.3,400.9L462.7,409.4M850.7,409.4L870.6,407.6M870.6,315.7L810.8,315.2L751.1,314.4L691.3,313.5L631.6,313.5L571.8,314.1L512.0,314.5L452.3,315.4L392.5,315.7L332.8,316.7L273.0,317.8L213.3,317.1L153.5,316.5M362.7,409.4L392.5,407.0L433.9,398.4L452.3,394.4L465.6,398.4L477.7,409.4M810.8,409.4L810.8,409.4L870.6,403.9M870.6,319.0L810.8,318.5L751.1,317.4L691.3,316.2L631.6,316.2L571.8,317.1L512.0,317.6L452.3,318.7L392.5,319.0L332.8,320.3L273.0,321.7L273.0,321.7L273.0,321.7L213.3,320.6L153.5,319.8M312.9,409.4L332.8,406.2L392.5,402.2L410.9,398.4L452.3,389.5L482.2,398.4L492.6,409.4M797.9,409.4L810.8,405.6L870.6,400.3M870.6,322.8L810.8,321.7L810.8,321.7L751.1,320.5L691.3,318.9L631.6,318.9L571.8,320.2L512.0,320.7L467.2,321.7L452.3,322.0L392.5,322.4L332.8,323.6L273.0,328.5L213.3,324.8L153.5,323.9M273.0,409.4L273.0,409.4L332.8,399.7L362.7,398.4L392.5,397.3L437.4,387.5L452.3,385.2L472.2,387.5L498.8,398.4L507.6,409.4M784.9,409.4L810.8,401.8L849.3,398.4L870.6,396.6M870.6,328.3L810.8,327.8L751.1,324.8L691.3,321.7L631.6,321.7L571.8,323.3L512.0,323.9L452.3,325.3L392.5,325.8L332.8,326.8L283.9,332.6L273.0,335.8L253.1,332.6L213.3,329.1L153.5,329.4M233.2,409.4L273.0,398.4L273.0,398.4L332.8,393.3L392.5,391.9L412.5,387.5L452.3,381.4L505.4,387.5L512.0,393.0L518.7,398.4L526.0,409.4M771.9,409.4L808.8,398.4L810.8,398.1L870.6,393.0M870.6,334.5L810.8,334.5L793.8,332.6L751.1,330.0L691.3,326.1L631.6,325.3L571.8,326.5L512.0,327.0L452.3,328.7L392.5,329.2L332.8,330.1L311.0,332.6L273.0,343.6L273.0,343.6L273.0,343.6L213.3,334.1L153.5,336.8M206.3,409.4L213.3,405.6L242.4,398.4L273.0,392.7L326.8,387.5L332.8,387.0L392.5,386.4L452.3,377.6L477.9,376.5L512.0,374.2L571.8,374.3L578.4,376.5L574.1,387.5L571.8,389.0L551.9,398.4L545.9,409.4M758.9,409.4L788.2,398.4L810.8,394.5L870.6,389.3M870.6,343.6L810.8,343.6L810.8,343.6L751.1,337.6L721.2,332.6L691.3,330.5L631.6,329.0L571.8,329.7L512.0,330.1L452.3,332.0L392.5,332.6L392.5,332.6L332.8,334.2L300.2,343.6L273.0,348.4L227.0,343.6L213.3,341.4L185.7,343.6L153.5,347.7M192.4,409.4L212.0,398.4L213.3,398.1L269.7,387.5L273.0,386.8L332.8,382.0L392.5,381.1L425.3,376.5L452.3,373.0L512.0,368.4L554.7,365.5L571.8,363.4L628.1,354.6L631.6,353.4L634.9,354.6L631.6,365.5L631.6,365.5L611.6,376.5L597.1,387.5L580.1,398.4L571.8,404.7L565.8,409.4M738.5,409.4L751.1,405.7L767.6,398.4L810.8,391.0L850.7,387.5L870.6,384.0M870.6,351.4L810.8,350.9L751.1,347.4L711.2,343.6L691.3,340.5L631.6,332.6L571.8,333.5L512.0,334.2L452.3,338.1L392.5,340.0L332.8,342.0L327.3,343.6L273.0,353.1L213.3,352.1L193.3,354.6L153.5,360.3M178.5,409.4L186.6,398.4L213.3,391.9L236.5,387.5L273.0,380.4L332.8,377.0L356.7,376.5L392.5,374.3L452.3,368.0L482.2,365.5L512.0,360.1L554.7,354.6L571.8,349.7L589.4,343.6L571.8,341.6L512.0,342.0L482.2,343.6L452.3,346.1L392.5,349.1L332.8,352.4L319.5,354.6L273.0,361.0L239.8,365.5L213.3,369.5L153.5,376.5L153.5,376.5M707.1,409.4L742.2,398.4L751.1,397.0L810.8,387.5L810.8,387.5L870.6,377.2M870.6,360.1L810.8,359.6L751.1,356.8L691.3,356.9L670.1,365.5L645.6,376.5L631.6,381.4L620.1,387.5L600.7,398.4L586.2,409.4M164.6,409.4L161.1,398.4L153.5,393.1M673.7,409.4L691.3,401.0L698.0,398.4L751.1,389.9L766.6,387.5L810.8,378.3L821.7,376.5L810.8,372.9L751.1,365.5L691.3,372.1L680.8,376.5L658.7,387.5L631.6,393.0L621.3,398.4L606.8,409.4M638.6,409.4L631.6,406.3L627.4,409.4" fill="none" stroke="#fff" stroke-width="0.35" stroke-opacity="0.75"/>
<path d="M870.6,210.4L810.8,210.4L751.1,210.4L691.3,210.4L631.6,210.4L571.8,210.4L512.0,210.4L452.3,210.4L392.5,210.4L332.8,210.4L273.0,210.4L213.3,210.4L153.5,210.4M870.6,212.0L810.8,212.0L751.1,212.0L691.3,212.0L631.6,212.0L571.8,212.0L512.0,212.0L452.3,212.0L392.5,212.0L332.8,212.0L273.0,212.0L213.3,212.0L153.5,212.0M870.6,213.3L810.8,213.3L751.1,213.3L691.3,213.3L631.6,213.3L571.8,213.3L512.0,213.3L452.3,213.4L392.5,213.4L332.8,213.4L273.0,213.4L213.3,213.4L153.5,213.5M870.6,214.7L810.8,214.7L751.1,214.7L691.3,214.7L631.6,214.7L571.8,214.7L512.0,214.7L452.3,214.7L392.5,214.7L332.8,214.8L273.0,214.8L213.3,214.8L153.5,214.9M870.6,216.0L810.8,216.0L751.1,216.0L691.3,216.0L631.6,216.0L571.8,216.0L512.0,216.0L452.3,216.0L392.5,216.1L332.8,216.1L273.0,216.2L213.3,216.3L153.5,216.3M870.6,217.3L810.8,217.3L751.1,217.3L691.3,217.3L631.6,217.3L571.8,217.3L512.0,217.3L452.3,217.3L392.5,217.4L332.8,217.5L273.0,217.6L213.3,217.7L153.5,217.7M870.6,218.6L810.8,218.6L751.1,218.6L691.3,218.6L631.6,218.6L571.8,218.6L512.0,218.6L452.3,218.7L392.5,218.8L332.8,218.9L273.0,219.0L213.3,219.1L153.5,219.2M870.6,219.9L810.8,219.9L751.1,219.9L691.3,219.9L631.6,219.9L571.8,219.9L512.0,219.9L452.3,220.0L392.5,220.1L332.8,220.2L273.0,220.3L213.3,220.5L153.5,220.6M870.6,221.2L810.8,221.2L751.1,221.2L691.3,221.2L631.6,221.2L571.8,221.2L512.0,221.2L452.3,221.3L392.5,221.4L332.8,221.6L273.0,221.7L213.3,221.9L153.5,222.0M870.6,222.5L810.8,222.5L751.1,222.5L691.3,222.5L631.6,222.5L571.8,222.5L512.0,222.5L452.3,222.6L392.5,222.8L332.8,222.9L307.2,223.0L273.0,223.1L213.3,223.3L153.5,223.4M870.6,223.9L810.8,223.9L751.1,223.9L691.3,223.9L631.6,223.9L571.8,223.9L512.0,223.9L452.3,224.0L392.5,224.2L332.8,224.4L273.0,224.5L213.3,224.7L153.5,224.9M870.6,225.3L810.8,225.3L751.1,225.3L691.3,225.3L631.6,225.3L571.8,225.3L512.0,225.3L452.3,225.5L392.5,225.6L332.8,225.8L273.0,225.9L213.3,226.1L153.5,226.3M870.6,226.7L810.8,226.7L751.1,226.7L691.3,226.7L631.6,226.7L571.8,226.7L512.0,226.7L452.3,226.9L392.5,227.0L332.8,227.2L273.0,227.4L213.3,227.5L153.5,227.7M870.6,228.1L810.8,228.1L751.1,228.1L691.3,228.1L631.6,228.1L571.8,228.1L512.0,228.1L452.3,228.3L392.5,228.5L332.8,228.6L273.0,228.8L213.3,229.0L153.5,229.1M870.6,229.6L810.8,229.6L751.1,229.6L691.3,229.6L631.6,229.6L571.8,229.6L512.0,229.6L452.3,229.7L392.5,229.9L332.8,230.1L273.0,230.2L213.3,230.4L153.5,230.6M870.6,231.0L810.8,231.0L751.1,231.0L691.3,231.0L631.6,231.0L571.8,231.0L512.0,231.0L452.3,231.1L392.5,231.3L332.8,231.5L273.0,231.6L213.3,231.8L153.5,232.0M870.6,232.4L810.8,232.4L751.1,232.4L691.3,232.4L631.6,232.4L571.8,232.4L512.0,232.4L452.3,232.6L392.5,232.7L332.8,232.9L273.0,233.1L213.3,233.2L153.5,233.4M870.6,233.8L810.8,233.8L751.1,233.8L691.3,233.8L631.6,233.8L571.8,233.8L512.0,233.8L460.8,234.0L452.3,234.0L392.5,234.2L332.8,234.3L273.0,234.5L213.3,234.7L153.5,234.8M870.6,235.2L810.8,235.2L751.1,235.2L691.3,235.2L631.6,235.2L571.8,235.2L512.0,235.2L452.3,235.4L392.5,235.6L332.8,235.7L273.0,235.9L213.3,236.1L153.5,236.2M870.6,236.6L810.8,236.6L751.1,236.6L691.3,236.6L631.6,236.6L571.8,236.6L512.0,236.6L452.3,236.8L392.5,237.0L332.8,237.1L273.0,237.3L213.3,237.5L153.5,237.6M870.6,238.0L810.8,238.0L751.1,238.0L691.3,238.0L631.6,238.0L571.8,238.0L512.0,238.0L452.3,238.2L392.5,238.4L332.8,238.5L273.0,238.7L213.3,238.9L153.5,239.0M870.6,239.5L810.8,239.5L751.1,239.5L691.3,239.5L631.6,239.5L571.8,239.5L512.0,239.5L452.3,239.6L392.5,239.8L332.8,239.9L273.0,240.1L213.3,240.3L153.5,240.4M870.6,240.9L810.8,240.9L751.1,240.9L691.3,240.9L631.6,240.9L571.8,240.9L512.0,240.9L452.3,241.0L392.5,241.2L332.8,241.4L273.0,241.5L213.3,241.7L153.5,241.8M870.6,242.3L810.8,242.3L751.1,242.3L691.3,242.3L631.6,242.3L571.8,242.3L512.0,242.3L452.3,242.4L392.5,242.6L332.8,242.8L273.0,242.9L213.3,243.1L153.5,243.2M870.6,243.7L810.8,243.7L751.1,243.7L691.3,243.7L631.6,243.7L571.8,243.7L512.0,243.7L452.3,243.8L392.5,244.0L332.8,244.2L273.0,244.3L213.3,244.5L153.5,244.7M870.6,245.1L810.8,245.1L751.1,245.1L691.3,245.1L631.6,245.1L571.8,245.1L512.0,245.1L452.3,245.2L392.5,245.4L332.8,245.6L273.0,245.7L213.3,245.9L153.5,246.1M870.6,246.5L810.8,246.5L751.1,246.5L691.3,246.5L631.6,246.5L571.8,246.5L512.0,246.5L452.3,246.7L392.5,246.8L332.8,247.0L273.0,247.2L213.3,247.3L153.5,247.5M870.6,247.9L810.8,247.9L751.1,247.9L691.3,247.9L631.6,247.9L571.8,247.9L512.0,247.9L452.3,248.1L392.5,248.3L332.8,248.4L273.0,248.6L213.3,248.8L153.5,248.9M870.6,249.3L810.8,249.3L751.1,249.3L691.3,249.3L631.6,249.3L571.8,249.3L512.0,249.3L452.3,249.5L392.5,249.7L332.8,249.8L273.0,250.0L213.3,250.2L153.5,250.3M870.6,250.8L810.8,250.8L751.1,250.8L691.3,250.8L631.6,250.8L571.8,250.8L512.0,250.8L452.3,250.9L392.5,251.1L332.8,251.3L273.0,251.4L213.3,251.6L153.5,251.8M870.6,252.2L810.8,252.2L751.1,252.2L691.3,252.2L631.6,252.2L571.8,252.2L512.0,252.2L452.3,252.4L392.5,252.5L332.8,252.7L273.0,252.9L213.3,253.0L153.5,253.2M870.6,253.6L810.8,253.6L751.1,253.6L691.3,253.6L631.6,253.6L571.8,253.6L512.0,253.6L452.3,253.8L392.5,254.0L332.8,254.1L273.0,254.3L213.3,254.5L153.5,254.6M870.6,255.0L810.8,255.0L751.1,255.0L691.3,255.0L631.6,255.0L571.8,255.0L512.0,255.0L452.3,255.2L392.5,255.4L332.8,255.5L273.0,255.7L213.3,255.9L204.7,255.9L153.5,256.0M870.6,256.5L810.8,256.5L751.1,256.5L691.3,256.5L631.6,256.5L571.8,256.5L512.0,256.5L452.3,256.6L392.5,256.8L332.8,257.0L273.0,257.2L213.3,257.3L153.5,257.5M870.6,257.9L810.8,257.9L751.1,257.9L691.3,257.9L631.6,257.9L571.8,257.9L512.0,257.9L452.3,258.1L392.5,258.3L332.8,258.4L273.0,258.6L213.3,258.8L153.5,258.9M870.6,259.4L810.8,259.4L751.1,259.4L691.3,259.4L631.6,259.4L571.8,259.4L512.0,259.4L452.3,259.5L392.5,259.7L332.8,259.9L273.0,260.0L213.3,260.2L153.5,260.4M870.6,260.8L810.8,260.8L751.1,260.8L691.3,260.8L631.6,260.8L571.8,260.8L512.0,260.8L452.3,261.0L392.5,261.1L332.8,261.3L273.0,261.5L213.3,261.6L153.5,261.8M870.6,262.2L810.8,262.2L751.1,262.2L691.3,262.2L631.6,262.2L571.8,262.2L512.0,262.2L452.3,262.4L392.5,262.6L332.8,262.8L273.0,262.9L213.3,263.1L153.5,263.3M870.6,263.7L810.8,263.7L751.1,263.7L691.3,263.7L631.6,263.7L571.8,263.7L512.0,263.7L452.3,263.9L392.5,264.0L332.8,264.2L273.0,264.4L213.3,264.5L153.5,264.7M870.6,265.1L810.8,265.1L751.1,265.1L691.3,265.1L631.6,265.1L571.8,265.1L512.0,265.1L452.3,265.3L392.5,265.5L332.8,265.6L273.0,265.8L213.3,266.0L153.5,266.1" fill="none" stroke="#fff" stroke-width="0.22" stroke-opacity="0.8"/>
<clipPath id="mc"><rect x="153.5" y="102.4" width="717.1" height="307.0"/></clipPath><path d="M137.8,408.3L169.2,410.5L173.7,420.6M137.8,397.3L169.2,399.5L173.7,409.6M137.9,386.1L169.1,388.8L173.5,399.0M165.0,388.5L167.2,393.6M138.0,374.3L169.0,378.7L172.9,389.1M164.9,378.1L166.8,383.3M138.0,363.1L169.0,368.0L172.7,378.5M164.9,367.3L166.7,372.6M138.1,351.3L168.9,357.8L172.0,368.5M164.7,357.0L166.3,362.3M138.3,339.6L168.7,347.7L171.2,358.5M164.6,346.6L165.9,352.0M138.3,328.6L168.7,336.7L171.2,347.5M164.6,335.6L165.9,341.0M138.8,316.1L168.2,327.3L169.6,338.3M164.2,325.8L165.0,331.3M138.7,305.6L168.3,315.8L170.2,326.8M138.4,295.4L168.6,304.1L171.0,314.9M138.0,286.1L169.0,291.5L172.5,302.1M138.0,275.1L169.0,280.6L172.5,291.1M143.0,255.2L164.0,278.5L160.3,289.0M165.3,245.6L141.7,266.2L131.3,262.3M167.6,238.1L139.4,251.8L130.4,245.4M155.7,218.4L151.3,249.5L140.9,253.4M158.9,208.3L148.1,237.8L137.1,239.4M149.6,233.8L144.1,234.6M160.9,198.2L146.1,225.9L135.0,226.0M148.1,222.2L137.0,222.3M165.5,191.0L141.5,211.2L131.2,207.1M144.7,208.5L134.4,204.4M167.5,183.0L139.5,197.2L130.4,190.9M143.3,195.3L134.1,189.0M168.6,174.8L138.4,183.5L130.6,175.5M142.4,182.3L138.6,178.4M169.0,165.5L138.0,170.9L131.1,162.2M168.8,153.7L138.2,160.8L130.9,152.4M168.5,141.7L138.5,150.8L130.6,143.1M168.8,131.8L138.2,138.8L130.9,130.5M169.2,123.2L137.8,125.4L131.9,116.1M169.2,113.4L137.8,113.4L132.5,103.6M169.2,102.4L137.8,102.4L132.5,92.6M197.6,409.4L229.0,409.4L234.2,419.2M197.6,398.4L229.0,398.4L234.2,408.2M197.6,386.3L228.9,388.7L233.4,398.8M224.7,388.4L227.0,393.4M197.7,374.3L228.8,378.7L232.7,389.1M224.6,378.1L226.6,383.3M197.8,362.8L228.7,368.3L232.2,378.8M224.6,367.5L226.3,372.8M197.9,351.3L228.6,357.8L231.7,368.5M224.5,357.0L226.1,362.3M198.1,339.4L228.4,347.8L230.8,358.7M224.3,346.7L225.6,352.1M198.6,327.1L227.9,338.2L229.4,349.2M224.0,336.7L224.8,342.2M199.5,314.1L227.0,329.2L226.9,340.3M201.3,300.5L225.2,320.9L222.8,331.8M200.4,290.8L226.1,308.8L224.8,319.8M202.2,277.7L224.4,299.9L221.2,310.5M224.0,266.3L202.6,289.3L191.8,286.5M201.6,256.4L224.9,277.4L222.3,288.2M220.9,242.2L205.6,269.6L194.5,269.5M221.3,231.5L205.2,258.4L194.1,257.9M207.3,254.8L201.8,254.5M224.7,223.3L201.8,244.7L191.3,241.1M204.8,241.8L199.6,240.0M227.5,216.4L199.0,229.6L190.1,223.0M202.8,227.9L198.4,224.6M227.9,206.4L198.6,217.7L190.2,210.4M202.5,216.2L194.1,208.9M228.2,196.2L198.3,205.9L190.3,198.3M202.3,204.6L194.3,197.0M206.3,203.3L202.3,199.5M228.6,186.6L198.0,193.6L190.6,185.3M202.1,192.7L194.7,184.4M206.1,191.8L202.5,187.6M228.6,175.9L197.9,182.4L190.7,174.0M202.0,181.5L198.4,177.3M228.3,163.6L198.2,172.8L190.3,165.0M228.6,153.7L198.0,160.8L190.6,152.4M228.6,142.7L198.0,149.8L190.6,141.5M228.9,133.8L197.6,136.8L191.4,127.6M228.9,123.8L197.6,124.9L192.0,115.3M229.0,113.8L197.6,113.0L192.5,103.1M229.0,102.8L197.6,102.0L192.5,92.1M257.4,408.3L288.7,410.5L293.3,420.6M257.4,397.3L288.7,399.5L293.3,409.6M257.4,385.8L288.6,389.2L292.8,399.4M284.4,388.7L286.5,393.9M257.6,373.7L288.5,379.3L291.9,389.9M284.3,378.6L286.1,383.8M257.8,361.7L288.2,369.4L291.0,380.2M284.2,368.4L285.5,373.7M258.0,349.9L288.0,359.3L290.1,370.2M284.0,358.0L285.0,363.5M258.2,338.4L287.8,348.8L289.6,359.8M283.9,347.4L284.7,352.9M258.4,326.9L287.6,338.4L289.0,349.4M283.7,336.9L284.4,342.4M259.2,314.3L286.9,329.1L287.0,340.2M261.0,300.6L285.0,320.9L282.7,331.7M262.2,288.4L283.8,311.1L280.4,321.7M262.9,276.8L283.1,300.8L279.0,311.1M280.4,297.6L278.4,302.8M276.4,262.5L269.7,293.2L259.0,296.2M283.8,255.4L262.2,278.3L251.5,275.4M268.1,241.0L278.0,270.8L270.4,278.9M284.1,233.8L261.9,256.0L251.3,252.9M288.5,231.4L257.5,236.6L250.7,227.8M288.6,221.1L257.4,224.9L251.0,215.8M261.6,224.4L255.2,215.3M288.5,209.3L257.6,214.8L250.7,206.1M261.7,214.0L254.8,205.3M265.8,213.3L262.4,209.0M288.5,198.4L257.6,203.8L250.7,195.1M261.7,203.1L254.8,194.4M265.8,202.3L262.4,198.0M288.5,187.4L257.6,192.8L250.7,184.1M261.7,192.1L254.8,183.4M265.8,191.4L262.4,187.0M288.5,176.4L257.6,181.9L250.7,173.2M261.7,181.1L258.2,176.8M288.3,164.4L257.8,172.0L250.3,163.8M288.4,154.1L257.6,160.4L250.5,151.9M288.6,144.1L257.5,148.4L250.9,139.5M288.7,134.2L257.4,136.4L251.4,127.0M288.7,124.3L257.3,124.3L252.0,114.6M288.7,114.4L257.3,112.4L252.7,102.3M288.7,103.4L257.3,101.4L252.7,91.3M317.1,408.6L348.5,410.2L353.2,420.2M317.1,397.6L348.5,399.3L353.2,409.3M317.2,385.8L348.4,389.1L352.6,399.4M344.2,388.7L346.3,393.8M317.3,373.8L348.2,379.2L351.7,389.8M344.1,378.5L345.9,383.8M317.6,361.5L347.9,369.6L350.5,380.4M343.9,368.5L345.2,373.9M317.8,349.7L347.7,359.4L349.7,370.3M318.0,338.2L347.5,349.0L349.1,360.0M318.0,327.3L347.5,338.0L349.1,349.0M318.0,316.3L347.5,327.1L349.1,338.0M318.5,304.2L347.1,317.2L347.8,328.3M319.6,291.2L346.0,308.3L345.1,319.4M322.6,276.8L342.9,300.8L338.9,311.1M325.4,264.0L340.1,291.7L334.0,300.9M346.9,260.1L318.6,273.7L309.6,267.2M341.6,242.9L324.0,268.9L312.9,267.8M326.3,265.4L320.8,264.9M344.6,234.6L320.9,255.2L310.5,251.3M348.3,231.6L317.3,236.3L310.6,227.5M348.4,221.3L317.2,224.8L310.8,215.6M321.3,224.3L318.2,219.7M348.4,210.4L317.2,213.7L310.9,204.5M321.3,213.2L315.1,204.1M325.5,212.8L322.4,208.2M348.3,198.8L317.2,203.4L310.6,194.5M321.4,202.8L314.7,193.9M325.6,202.2L322.2,197.7M348.2,187.4L317.3,192.8L310.4,184.1M321.4,192.1L314.6,183.4M325.6,191.4L322.1,187.0M348.1,176.0L317.4,182.3L310.3,173.8M321.5,181.5L317.9,177.2M348.0,164.3L317.6,172.1L310.0,163.9M348.3,155.2L317.2,159.3L310.7,150.3M348.4,144.5L317.2,148.0L310.8,138.9M348.4,133.9L317.1,136.7L311.0,127.4M348.4,123.2L317.1,125.4L311.2,116.1M348.5,113.4L317.1,113.4L311.8,103.6M348.5,102.4L317.1,102.4L311.8,92.6M376.8,409.4L408.2,409.4L413.5,419.2M376.8,398.4L408.2,398.4L413.5,408.2M376.9,386.3L408.2,388.6L412.7,398.7M404.0,388.3L406.3,393.4M377.0,374.3L408.1,378.7L411.9,389.1M403.9,378.1L405.9,383.3M377.2,362.0L407.8,369.1L410.8,379.8M377.4,350.4L407.7,358.8L410.1,369.6M377.3,339.9L407.8,347.3M403.7,346.3L405.1,351.7M377.2,329.3L407.9,336.0M403.8,335.1L405.3,340.5M377.2,318.1L407.8,325.2M403.7,324.3L405.2,329.6M377.5,306.1L407.5,315.4L409.7,326.3M378.2,293.3L406.8,306.2L407.6,317.3M380.4,278.8L404.7,298.8L402.5,309.7M385.5,263.8L399.6,291.9L393.2,301.0M407.3,261.6L377.8,272.2L369.5,264.7M406.0,247.8L379.1,264.0L369.5,258.3M382.7,261.8L377.9,259.0M404.3,234.6L380.7,255.3L370.3,251.4M407.8,230.4L377.2,237.6L369.9,229.3M407.9,219.6L377.2,226.4L369.9,218.0M408.0,209.6L377.0,214.5L370.3,205.7M381.2,213.8L377.8,209.4M408.0,198.2L377.1,204.0L370.1,195.4M381.2,203.2L374.2,194.6M408.0,187.2L377.1,193.0L370.1,184.4M381.2,192.2L374.2,183.6M408.0,176.4L377.1,181.9L370.2,173.2M381.2,181.1L377.8,176.8M408.0,165.7L377.0,170.6L370.3,161.8M408.2,155.9L376.9,158.5M381.1,158.2L378.0,153.5M408.2,145.3L376.9,147.2M381.1,147.0L378.1,142.3M408.2,134.7L376.8,135.8L371.2,126.3M408.2,124.3L376.8,124.3L371.6,114.6M408.2,113.4L376.8,113.4L371.6,103.6M408.2,102.4L376.8,102.4L371.6,92.6M436.6,409.4L468.0,409.4L473.3,419.2M436.6,398.4L468.0,398.4L473.3,408.2M436.6,386.6L468.0,388.3L472.7,398.4M463.8,388.1L466.1,393.1M436.7,374.8L467.9,378.3L472.1,388.5M463.7,377.8L465.8,382.9M436.8,363.1L467.8,368.0L471.5,378.5M436.9,351.5L467.7,357.6L471.0,368.2M436.8,341.3L467.8,345.9M463.7,345.3L465.6,350.5M436.6,331.5L467.9,333.8M463.8,333.5L466.0,338.6M436.7,319.9L467.9,323.4L472.1,333.7M437.0,307.4L467.6,314.1L470.7,324.8M437.7,293.9L466.9,305.6L468.1,316.6M439.1,280.3L465.5,297.3L464.7,308.3M437.3,273.2L467.3,282.5M463.3,281.2L464.4,286.7M452.6,251.2L451.9,282.6M452.0,278.4L447.1,280.9M464.7,246.3L439.8,265.5L429.7,260.9M450.7,229.3L453.9,260.5L444.8,266.8M452.3,218.3L452.3,249.7L442.5,255.0M466.6,216.5L438.0,229.5L429.2,222.8M467.4,207.7L437.2,216.4L429.4,208.4M441.2,215.2L437.4,211.2M467.3,196.6L437.2,205.6L429.4,197.7M467.5,186.3L437.1,194.0L429.6,185.8M441.1,192.9L437.4,188.8M467.6,175.8L437.0,182.5L429.7,174.2M441.1,181.6L437.4,177.4M467.6,164.8L437.0,171.6L429.7,163.2M467.9,155.3L436.7,159.1M440.9,158.6L437.7,154.1M467.9,144.6L436.7,147.9M440.9,147.5L437.7,142.9M468.0,135.3L436.6,135.3M440.8,135.3L438.2,130.4M468.0,124.9L436.6,123.8M440.8,123.9L438.3,119.0M467.9,114.7L436.6,112.1L432.2,101.9M467.9,103.7L436.6,101.1L432.2,90.9M496.3,409.4L527.8,409.4L533.0,419.2M496.3,398.4L527.8,398.4L533.0,408.2M496.4,386.7L527.7,388.3L532.5,398.3M496.4,375.2L527.7,377.8L532.2,387.9M496.5,363.7L527.6,367.4L531.7,377.7M496.8,350.8L527.3,358.4L530.0,369.1M496.7,340.2L527.4,347.0L530.4,357.7M496.6,330.0L527.5,335.3L531.1,345.8M496.5,319.3L527.6,324.1L531.3,334.6M496.6,307.7L527.5,313.7L530.8,324.3M497.1,294.9L527.0,304.6L529.0,315.5M497.4,283.2L526.7,294.4L528.1,305.4M496.6,275.3L527.5,280.4M523.4,279.7L525.2,284.9M496.7,263.7L527.4,270.0M523.3,269.2L524.9,274.5M506.7,241.1L517.4,270.7L510.1,279.0M510.5,229.3L513.6,260.6L504.5,266.8M519.2,220.0L504.9,248.0L493.8,248.2M525.5,214.9L498.6,231.1L489.0,225.4M502.2,228.9L497.4,226.1M526.3,205.5L497.8,218.6L488.9,211.9M501.6,216.8L497.2,213.5M526.3,194.5L497.8,207.6L488.9,201.0M501.6,205.9L497.2,202.6M526.7,184.4L497.4,195.9L489.0,188.7M501.4,194.3L497.1,190.8M527.1,174.7L497.0,183.6L489.2,175.7M501.0,182.4L497.1,178.5M527.3,164.6L496.8,171.8L489.4,163.5M527.1,152.7L497.0,161.7L489.2,153.9M527.3,142.5L496.8,150.1M500.9,149.0L497.1,144.9M527.7,134.0L496.4,136.6M500.6,136.2L497.6,131.6M527.8,124.3L496.3,124.3M500.5,124.3L497.9,119.4M527.7,114.8L496.4,111.9L492.1,101.7M527.7,103.9L496.4,100.9L492.1,90.7M556.1,409.4L587.5,409.4M583.3,409.4L585.9,414.3M556.1,398.4L587.5,398.4M583.3,398.4L585.9,403.3M556.1,387.5L587.5,387.5M583.3,387.5L585.9,392.4M556.1,375.6L587.5,377.4L592.2,387.4M556.2,363.5L587.4,367.6L591.4,377.9M556.4,351.6L587.2,357.6L590.5,368.2M556.4,340.6L587.2,346.6L590.5,357.2M556.3,330.3L587.3,335.0L591.1,345.4M556.3,319.2L587.3,324.1L591.0,334.6M556.5,307.5L587.2,314.0L590.3,324.6M556.8,295.2L586.8,304.3L589.0,315.2M556.9,284.0L586.8,293.6L588.8,304.5M556.5,274.2L587.1,281.5L589.9,292.2M556.3,264.2L587.3,269.5M583.1,268.8L584.9,274.1M560.6,244.9L583.0,266.9L580.0,277.5M581.8,232.8L561.9,257.1L551.0,255.0M584.8,225.2L558.8,242.7L548.9,237.6M582.5,211.5L561.1,234.5L550.4,231.7M564.0,231.4L558.6,230.0M585.5,204.4L558.1,219.7L548.7,213.7M561.8,217.6L557.1,214.6M586.0,194.3L557.6,207.8L548.7,201.3M561.4,206.0L556.9,202.7M586.4,184.4L557.2,195.8L548.7,188.6M561.1,194.3L552.6,187.1M586.8,174.4L556.9,183.9L548.9,176.2M560.9,182.6L556.9,178.8M587.0,164.1L556.6,172.2L549.0,164.2M587.2,154.1L556.4,160.4L549.3,151.9M587.4,144.1L556.3,148.4L549.7,139.5M587.5,134.6L556.1,136.0M560.3,135.8L557.5,131.0M587.5,124.6L556.1,124.1M560.3,124.1L557.8,119.2M587.5,114.5L556.2,112.2L551.6,102.1M587.5,103.6L556.2,101.2L551.6,91.1M615.9,409.4L647.3,409.4M643.1,409.4L645.7,414.3M615.9,398.4L647.3,398.4M643.1,398.4L645.7,403.3M615.9,387.5L647.3,387.5L652.5,397.2M615.9,376.3L647.3,376.7L652.4,386.5M615.9,364.5L647.2,366.6L651.8,376.7M616.0,352.4L647.1,356.8L651.0,367.2M616.1,340.7L647.0,346.5L650.4,357.1M616.0,330.9L647.2,334.4M643.0,334.0L645.1,339.1M616.0,319.6L647.1,323.7M643.0,323.2L644.9,328.4M616.1,308.2L647.1,313.3M642.9,312.6L644.7,317.8M616.1,297.0L647.0,302.5M642.9,301.8L644.6,307.0M616.4,284.6L646.7,293.0L649.2,303.8M616.6,273.2L646.6,282.4L648.8,293.3M616.1,264.3L647.1,269.4L650.7,279.9M621.4,243.9L641.7,267.9L637.7,278.2M645.9,238.4L617.3,251.4L608.4,244.7M646.5,229.3L616.6,238.7L608.6,230.9M644.7,214.5L618.4,231.5L608.6,226.2M645.8,205.4L617.3,218.7L608.4,212.1M621.1,216.9L616.7,213.6M646.5,196.4L616.6,205.8L608.6,198.0M620.6,204.5L616.6,200.6M646.7,186.0L616.4,194.3L608.8,186.2M620.5,193.1L612.8,185.1M646.6,174.7L616.5,183.6L608.7,175.7M620.5,182.4L616.6,178.5M645.0,160.1L618.1,176.3L608.6,170.6M646.8,153.5L616.3,161.0L608.9,152.7M647.2,144.5L616.0,148.0M620.1,147.5L617.0,143.0M647.3,135.5L615.9,135.1M620.1,135.2L617.5,130.2M647.2,125.2L615.9,123.5M620.1,123.7L617.7,118.7M647.2,114.4L615.9,112.4M620.1,112.6L617.8,107.6M647.2,103.4L615.9,101.4M620.1,101.7L617.8,96.6M675.6,408.9L707.0,409.9L712.0,419.9M675.6,397.9L707.0,399.0L712.0,408.9M675.7,386.4L707.0,388.6M702.8,388.3L705.1,393.3M675.7,374.9L706.9,378.1L711.2,388.4M675.7,363.6L706.9,367.5L711.0,377.8M675.8,352.4L706.9,356.8L710.7,367.2M675.8,341.4L706.9,345.8L710.7,356.2M675.7,331.3L707.0,334.0M702.8,333.7L705.0,338.7M675.7,320.2L707.0,323.2M702.8,322.8L704.9,327.9M675.7,309.1L706.9,312.3L711.2,322.6M675.7,297.9L706.9,301.6L711.0,312.0M675.9,286.1L706.8,291.5L710.3,302.0M676.3,273.2L706.3,282.4L708.5,293.3M676.1,263.0L706.6,270.7L709.3,281.4M679.3,245.9L703.4,265.9L701.2,276.8M705.2,237.6L677.4,252.2M681.1,250.3L676.5,247.2M705.7,227.7L676.9,240.3M680.8,238.6L676.4,235.2M705.6,216.6L677.0,229.4L668.2,222.7M706.4,207.7L676.2,216.4L668.5,208.4M706.6,197.7L676.0,204.5L668.7,196.1M706.7,187.1L675.9,193.1L668.9,184.5M706.5,175.2L676.1,183.1L668.6,174.9M706.4,163.9L676.2,172.5M680.3,171.4L676.4,167.4M706.5,153.3L676.1,161.1M680.2,160.1L676.4,156.0M707.0,146.3L675.6,146.3M706.9,137.1L675.7,133.5M679.9,134.0L677.8,128.8M706.8,126.8L675.8,121.9M680.0,122.5L678.1,117.3M706.7,116.5L675.9,110.2M680.1,111.1L678.4,105.8M706.7,105.5L675.9,99.3M680.1,100.1L678.4,94.8M735.4,409.4L766.8,409.4L772.1,419.2M735.4,398.4L766.8,398.4L772.1,408.2M735.4,386.6L766.8,388.3L771.5,398.4M735.5,374.3L766.6,378.7L770.5,389.1M735.7,362.3L766.4,368.8L769.6,379.5M736.0,350.3L766.2,358.9L768.6,369.7M736.2,338.6L766.0,348.6L767.9,359.5M735.7,329.3L766.4,336.0M762.3,335.1L763.9,340.4M735.6,319.2L766.6,324.1L770.3,334.6M735.5,309.1L766.7,312.3L770.9,322.6M735.5,298.0L766.7,301.5L770.8,311.8M735.7,285.4L766.4,292.2L769.5,302.8M736.4,272.3L765.8,283.4L767.3,294.4M736.4,261.3L765.8,272.4L767.3,283.4M761.8,270.9L762.6,276.4M736.1,251.2L766.1,260.6L768.2,271.5M736.0,240.7L766.2,249.2M762.2,248.0L763.4,253.4M735.9,230.0L766.3,238.0M762.2,236.9L763.5,242.3M742.4,209.9L759.8,236.1M757.4,232.6L754.8,237.5M765.6,206.1L736.5,218.0L728.0,210.9M766.4,197.5L735.8,204.7L728.4,196.4M766.5,187.2L735.7,193.0L728.7,184.4M739.8,192.2L736.3,187.9M766.4,175.8L735.7,182.5L728.5,174.1M766.2,164.1L735.9,172.2M740.0,171.2L736.2,167.1M766.4,154.0L735.7,160.5M766.6,148.8L735.6,143.7M766.8,136.3L735.4,134.3M739.6,134.6L737.3,129.5M766.6,127.0L735.6,121.7M739.8,122.4L738.0,117.1M766.4,117.0L735.8,109.8M739.9,110.7L738.4,105.4M766.4,106.0L735.8,98.8M739.9,99.8L738.4,94.4M795.2,408.4L826.5,410.4L831.2,420.5M795.2,397.4L826.5,399.4L831.2,409.5M795.3,385.5L826.4,389.4L830.5,399.8M795.5,373.4L826.2,379.7L829.4,390.3M795.7,361.3L826.0,369.8L828.4,380.6M795.8,350.1L825.9,359.1M821.9,357.9L823.0,363.3M795.7,339.6L826.0,347.7M821.9,346.6L823.2,352.0M795.5,329.3L826.2,336.0M822.1,335.1L823.6,340.4M795.3,319.2L826.3,324.1L830.0,334.6M795.3,308.6L826.4,312.9L830.3,323.3M795.3,297.6L826.4,301.9L830.3,312.3M795.4,286.1L826.3,291.5L829.9,302.0M795.9,273.0L825.8,282.6L827.8,293.5M796.0,261.8L825.7,271.9L827.5,282.9M795.6,252.3L826.1,259.5L829.0,270.2M795.4,242.2L826.3,247.6L829.8,258.2M795.3,231.7L826.4,236.3L830.2,246.7M797.1,215.4L824.6,230.6L824.5,241.7M823.1,202.3L798.5,221.8L788.3,217.4M825.1,194.4L796.6,207.7L787.7,201.1M825.7,185.2L795.9,195.1L787.9,187.5M825.1,172.6L796.6,185.7L787.7,179.1M825.1,161.7L796.5,174.7M800.4,172.9L795.9,169.6M826.4,155.0L795.3,159.4M799.5,158.8L796.2,154.4M826.0,142.0L795.7,150.5M826.5,135.3L795.1,135.3M799.3,135.3L796.7,130.4M826.5,125.5L795.2,123.1M799.4,123.4L797.1,118.4M826.4,115.7L795.3,111.1M799.5,111.7L797.6,106.5M826.4,104.7L795.3,100.1M799.5,100.7L797.6,95.5M854.9,408.3L886.3,410.5L890.8,420.6M854.9,397.3L886.3,399.5L890.8,409.6M855.1,385.3L886.1,389.7L890.0,400.1M855.2,373.5L886.0,379.5L889.3,390.1M855.4,361.7L885.8,369.3L888.6,380.1M855.4,350.8L885.8,358.4M881.8,357.4L883.1,362.7M855.2,340.4L886.0,346.9M881.8,346.0L883.4,351.3M855.1,329.9L886.1,335.4L889.6,345.9M855.1,319.5L886.1,323.9L890.0,334.3M855.1,308.5L886.1,312.9L890.0,323.3M855.1,297.6L886.1,301.9L890.0,312.3M855.1,286.1L886.1,291.5L889.6,302.1M855.4,273.8L885.8,281.9L888.3,292.7M855.4,262.8L885.8,270.9L888.3,281.7M855.2,252.6L886.0,259.2L889.1,269.8M855.1,242.2L886.1,247.7L889.6,258.2M855.1,231.2L886.1,236.7L889.6,247.2M858.6,212.9L882.6,233.1L880.4,244.0M872.0,196.4L869.2,227.7L859.0,232.1M874.7,185.9L866.5,216.2L855.7,218.8M878.5,176.5L862.8,203.7L851.7,203.4M880.7,167.1L860.5,191.2L849.6,188.9M883.5,159.2L857.7,177.2M861.2,174.8L856.2,172.3M885.4,151.9L855.8,162.6M859.8,161.2L855.6,157.5M886.3,145.7L854.9,146.8M859.1,146.7L856.3,141.9M886.3,135.3L854.9,135.3M859.1,135.3L856.5,130.4M886.3,124.3L854.9,124.3M859.1,124.3L856.5,119.4M886.3,114.5L854.9,112.3L850.4,102.2M886.3,103.5L854.9,101.3L850.4,91.2" clip-path="url(#mc)" fill="none" stroke="#111" stroke-width="0.72" stroke-linejoin="miter"/>
<rect x="153.5" y="102.4" width="717.1" height="307.0" fill="none" stroke="#000" stroke-width="1.3"/>
<path d="M153.5,409.4h24M870.6,409.4h-24M153.5,365.5h24M870.6,365.5h-24M153.5,321.7h24M870.6,321.7h-24M153.5,277.8h24M870.6,277.8h-24M153.5,234.0h24M870.6,234.0h-24M153.5,190.1h24M870.6,190.1h-24M153.5,146.3h24M870.6,146.3h-24M153.5,102.4h24M870.6,102.4h-24M153.5,102.4v11M153.5,409.4v-11M213.3,102.4v11M213.3,409.4v-11M273.0,102.4v11M273.0,409.4v-11M332.8,102.4v11M332.8,409.4v-11M392.5,102.4v11M392.5,409.4v-11M452.3,102.4v11M452.3,409.4v-11M512.0,102.4v11M512.0,409.4v-11M571.8,102.4v11M571.8,409.4v-11M631.6,102.4v11M631.6,409.4v-11M691.3,102.4v11M691.3,409.4v-11M751.1,102.4v11M751.1,409.4v-11M810.8,102.4v11M810.8,409.4v-11M870.6,102.4v11M870.6,409.4v-11" stroke="#000" stroke-width="1.3" fill="none"/>
<path d="M153.5,398.4h12M870.6,398.4h-12M153.5,387.5h12M870.6,387.5h-12M153.5,376.5h12M870.6,376.5h-12M153.5,354.6h12M870.6,354.6h-12M153.5,343.6h12M870.6,343.6h-12M153.5,332.6h12M870.6,332.6h-12M153.5,310.7h12M870.6,310.7h-12M153.5,299.8h12M870.6,299.8h-12M153.5,288.8h12M870.6,288.8h-12M153.5,266.9h12M870.6,266.9h-12M153.5,255.9h12M870.6,255.9h-12M153.5,244.9h12M870.6,244.9h-12M153.5,223.0h12M870.6,223.0h-12M153.5,212.0h12M870.6,212.0h-12M153.5,201.1h12M870.6,201.1h-12M153.5,179.1h12M870.6,179.1h-12M153.5,168.2h12M870.6,168.2h-12M153.5,157.2h12M870.6,157.2h-12M153.5,135.3h12M870.6,135.3h-12M153.5,124.3h12M870.6,124.3h-12M153.5,113.4h12M870.6,113.4h-12" stroke="#000" stroke-width="0.9" stroke-opacity="0.6" fill="none"/>
<text x="143.6" y="414.0" font-size="13" text-anchor="end">0</text>
<text x="143.6" y="370.1" font-size="13" text-anchor="end">4</text>
<text x="143.6" y="326.3" font-size="13" text-anchor="end">8</text>
<text x="143.6" y="282.4" font-size="13" text-anchor="end">12</text>
<text x="143.6" y="238.6" font-size="13" text-anchor="end">16</text>
<text x="143.6" y="194.7" font-size="13" text-anchor="end">20</text>
<text x="143.6" y="150.9" font-size="13" text-anchor="end">24</text>
<text x="143.6" y="107.0" font-size="13" text-anchor="end">28</text>
<text x="153.2" y="434.4" font-size="12.6" text-anchor="middle" dominant-baseline="central" transform="rotate(-45 153.2 434.4)">27_12</text>
<text x="213.0" y="434.4" font-size="12.6" text-anchor="middle" dominant-baseline="central" transform="rotate(-45 213.0 434.4)">27_15</text>
<text x="272.7" y="434.4" font-size="12.6" text-anchor="middle" dominant-baseline="central" transform="rotate(-45 272.7 434.4)">27_18</text>
<text x="332.5" y="434.4" font-size="12.6" text-anchor="middle" dominant-baseline="central" transform="rotate(-45 332.5 434.4)">27_21</text>
<text x="392.2" y="434.4" font-size="12.6" text-anchor="middle" dominant-baseline="central" transform="rotate(-45 392.2 434.4)">28_00</text>
<text x="452.0" y="434.4" font-size="12.6" text-anchor="middle" dominant-baseline="central" transform="rotate(-45 452.0 434.4)">28_03</text>
<text x="511.7" y="434.4" font-size="12.6" text-anchor="middle" dominant-baseline="central" transform="rotate(-45 511.7 434.4)">28_06</text>
<text x="571.5" y="434.4" font-size="12.6" text-anchor="middle" dominant-baseline="central" transform="rotate(-45 571.5 434.4)">28_09</text>
<text x="631.3" y="434.4" font-size="12.6" text-anchor="middle" dominant-baseline="central" transform="rotate(-45 631.3 434.4)">28_12</text>
<text x="691.0" y="434.4" font-size="12.6" text-anchor="middle" dominant-baseline="central" transform="rotate(-45 691.0 434.4)">28_15</text>
<text x="750.8" y="434.4" font-size="12.6" text-anchor="middle" dominant-baseline="central" transform="rotate(-45 750.8 434.4)">28_18</text>
<text x="810.5" y="434.4" font-size="12.6" text-anchor="middle" dominant-baseline="central" transform="rotate(-45 810.5 434.4)">28_21</text>
<text x="870.3" y="434.4" font-size="12.6" text-anchor="middle" dominant-baseline="central" transform="rotate(-45 870.3 434.4)">29_00</text>
<text x="507.6" y="47.7" font-size="43.3" text-anchor="middle" textLength="612.3" lengthAdjust="spacingAndGlyphs">Kazhydromet for Aksay(51.18 53)</text>
<text x="571.25" y="85.8" font-size="22.2" text-anchor="middle" textLength="151.8" lengthAdjust="spacingAndGlyphs">27 March 2026</text>
<rect x="891.3" y="113.10" width="19.6" height="3.24" fill="#fcafb2"/>
<rect x="891.3" y="116.04" width="19.6" height="3.24" fill="#f59698"/>
<rect x="891.3" y="118.99" width="19.6" height="3.24" fill="#ee7d80"/>
<rect x="891.3" y="121.93" width="19.6" height="3.24" fill="#e45f62"/>
<rect x="891.3" y="124.87" width="19.6" height="3.24" fill="#dc4648"/>
<rect x="891.3" y="127.81" width="19.6" height="3.24" fill="#d43234"/>
<rect x="891.3" y="130.76" width="19.6" height="3.24" fill="#cd1e20"/>
<rect x="891.3" y="133.70" width="19.6" height="3.24" fill="#c60f0f"/>
<rect x="891.3" y="136.64" width="19.6" height="3.24" fill="#be0000"/>
<rect x="891.3" y="139.59" width="19.6" height="3.24" fill="#c50000"/>
<rect x="891.3" y="142.53" width="19.6" height="3.24" fill="#cd0000"/>
<rect x="891.3" y="145.47" width="19.6" height="3.24" fill="#d40000"/>
<rect x="891.3" y="148.42" width="19.6" height="3.24" fill="#dc0000"/>
<rect x="891.3" y="151.36" width="19.6" height="3.24" fill="#e40000"/>
<rect x="891.3" y="154.30" width="19.6" height="3.24" fill="#ec0000"/>
<rect x="891.3" y="157.25" width="19.6" height="3.24" fill="#f50000"/>
<rect x="891.3" y="160.19" width="19.6" height="3.24" fill="#ff0000"/>
<rect x="891.3" y="163.13" width="19.6" height="3.24" fill="#ff0f00"/>
<rect x="891.3" y="166.07" width="19.6" height="3.24" fill="#ff1c00"/>
<rect x="891.3" y="169.02" width="19.6" height="3.24" fill="#ff2800"/>
<rect x="891.3" y="171.96" width="19.6" height="3.24" fill="#ff3200"/>
<rect x="891.3" y="174.90" width="19.6" height="3.24" fill="#ff3d00"/>
<rect x="891.3" y="177.85" width="19.6" height="3.24" fill="#ff4800"/>
<rect x="891.3" y="180.79" width="19.6" height="3.24" fill="#ff5700"/>
<rect x="891.3" y="183.73" width="19.6" height="3.24" fill="#ff6300"/>
<rect x="891.3" y="186.68" width="19.6" height="3.24" fill="#ff6d00"/>
<rect x="891.3" y="189.62" width="19.6" height="3.24" fill="#ff7700"/>
<rect x="891.3" y="192.56" width="19.6" height="3.24" fill="#ff8000"/>
<rect x="891.3" y="195.50" width="19.6" height="3.24" fill="#ff8700"/>
<rect x="891.3" y="198.45" width="19.6" height="3.24" fill="#ff8e00"/>
<rect x="891.3" y="201.39" width="19.6" height="3.24" fill="#ff9600"/>
<rect x="891.3" y="204.33" width="19.6" height="3.24" fill="#ff9e00"/>
<rect x="891.3" y="207.28" width="19.6" height="3.24" fill="#ffa500"/>
<rect x="891.3" y="210.22" width="19.6" height="3.24" fill="#ffac05"/>
<rect x="891.3" y="213.16" width="19.6" height="3.24" fill="#ffb40a"/>
<rect x="891.3" y="216.10" width="19.6" height="3.24" fill="#ffbc0f"/>
<rect x="891.3" y="219.05" width="19.6" height="3.24" fill="#ffc414"/>
<rect x="891.3" y="221.99" width="19.6" height="3.24" fill="#ffcd1c"/>
<rect x="891.3" y="224.93" width="19.6" height="3.24" fill="#ffd523"/>
<rect x="891.3" y="227.88" width="19.6" height="3.24" fill="#ffdc2a"/>
<rect x="891.3" y="230.82" width="19.6" height="3.24" fill="#ffe432"/>
<rect x="891.3" y="233.76" width="19.6" height="3.24" fill="#ffe841"/>
<rect x="891.3" y="236.71" width="19.6" height="3.24" fill="#ffec55"/>
<rect x="891.3" y="239.65" width="19.6" height="3.24" fill="#fff069"/>
<rect x="891.3" y="242.59" width="19.6" height="3.24" fill="#fff47d"/>
<rect x="891.3" y="245.53" width="19.6" height="3.24" fill="#fff791"/>
<rect x="891.3" y="248.48" width="19.6" height="3.24" fill="#fffaa5"/>
<rect x="891.3" y="251.42" width="19.6" height="3.24" fill="#fffcb6"/>
<rect x="891.3" y="254.36" width="19.6" height="3.24" fill="#fffdc6"/>
<rect x="891.3" y="257.31" width="19.6" height="3.24" fill="#cde8f6"/>
<rect x="891.3" y="260.25" width="19.6" height="3.24" fill="#c3e4f5"/>
<rect x="891.3" y="263.19" width="19.6" height="3.24" fill="#b9e0f4"/>
<rect x="891.3" y="266.14" width="19.6" height="3.24" fill="#afdcf3"/>
<rect x="891.3" y="269.08" width="19.6" height="3.24" fill="#a8d8f2"/>
<rect x="891.3" y="272.02" width="19.6" height="3.24" fill="#a0d4f1"/>
<rect x="891.3" y="274.97" width="19.6" height="3.24" fill="#98d0f0"/>
<rect x="891.3" y="277.91" width="19.6" height="3.24" fill="#8fccf0"/>
<rect x="891.3" y="280.85" width="19.6" height="3.24" fill="#82c6ee"/>
<rect x="891.3" y="283.79" width="19.6" height="3.24" fill="#69c0ee"/>
<rect x="891.3" y="286.74" width="19.6" height="3.24" fill="#55bcf0"/>
<rect x="891.3" y="289.68" width="19.6" height="3.24" fill="#41b9f2"/>
<rect x="891.3" y="292.62" width="19.6" height="3.24" fill="#2db8f5"/>
<rect x="891.3" y="295.57" width="19.6" height="3.24" fill="#1eb9f8"/>
<rect x="891.3" y="298.51" width="19.6" height="3.24" fill="#0abafa"/>
<rect x="891.3" y="301.45" width="19.6" height="3.24" fill="#00b9fc"/>
<rect x="891.3" y="304.39" width="19.6" height="3.24" fill="#00aafc"/>
<rect x="891.3" y="307.34" width="19.6" height="3.24" fill="#00a0fe"/>
<rect x="891.3" y="310.28" width="19.6" height="3.24" fill="#0596ff"/>
<rect x="891.3" y="313.22" width="19.6" height="3.24" fill="#0a8eff"/>
<rect x="891.3" y="316.17" width="19.6" height="3.24" fill="#0f88ff"/>
<rect x="891.3" y="319.11" width="19.6" height="3.24" fill="#1484fe"/>
<rect x="891.3" y="322.05" width="19.6" height="3.24" fill="#1880fd"/>
<rect x="891.3" y="325.00" width="19.6" height="3.24" fill="#1c7dfc"/>
<rect x="891.3" y="327.94" width="19.6" height="3.24" fill="#217af8"/>
<rect x="891.3" y="330.88" width="19.6" height="3.24" fill="#2678f3"/>
<rect x="891.3" y="333.82" width="19.6" height="3.24" fill="#2c76ee"/>
<rect x="891.3" y="336.77" width="19.6" height="3.24" fill="#3274e9"/>
<rect x="891.3" y="339.71" width="19.6" height="3.24" fill="#3770e6"/>
<rect x="891.3" y="342.65" width="19.6" height="3.24" fill="#3a6ae4"/>
<rect x="891.3" y="345.60" width="19.6" height="3.24" fill="#3c62e2"/>
<rect x="891.3" y="348.54" width="19.6" height="3.24" fill="#3a59e1"/>
<rect x="891.3" y="351.48" width="19.6" height="3.24" fill="#344fe2"/>
<rect x="891.3" y="354.43" width="19.6" height="3.24" fill="#2d43e4"/>
<rect x="891.3" y="357.37" width="19.6" height="3.24" fill="#2636e6"/>
<rect x="891.3" y="360.31" width="19.6" height="3.24" fill="#1e29e8"/>
<rect x="891.3" y="363.25" width="19.6" height="3.24" fill="#161deb"/>
<rect x="891.3" y="366.20" width="19.6" height="3.24" fill="#0c0ff0"/>
<rect x="891.3" y="369.14" width="19.6" height="3.24" fill="#0505f5"/>
<rect x="891.3" y="372.08" width="19.6" height="3.24" fill="#0000fa"/>
<rect x="891.3" y="375.03" width="19.6" height="3.24" fill="#0f00f8"/>
<rect x="891.3" y="377.97" width="19.6" height="3.24" fill="#1e05f5"/>
<rect x="891.3" y="380.91" width="19.6" height="3.24" fill="#300af2"/>
<rect x="891.3" y="383.86" width="19.6" height="3.24" fill="#410ff0"/>
<rect x="891.3" y="386.80" width="19.6" height="3.24" fill="#5214ee"/>
<rect x="891.3" y="389.74" width="19.6" height="3.24" fill="#6419ec"/>
<rect x="891.3" y="392.68" width="19.6" height="3.24" fill="#761eea"/>
<rect x="891.3" y="395.63" width="19.6" height="3.24" fill="#8723e8"/>
<path d="M891.3,116.04h19.6M891.3,118.99h19.6M891.3,121.93h19.6M891.3,124.87h19.6M891.3,127.81h19.6M891.3,130.76h19.6M891.3,133.70h19.6M891.3,136.64h19.6M891.3,139.59h19.6M891.3,142.53h19.6M891.3,145.47h19.6M891.3,148.42h19.6M891.3,151.36h19.6M891.3,154.30h19.6M891.3,157.25h19.6M891.3,160.19h19.6M891.3,163.13h19.6M891.3,166.07h19.6M891.3,169.02h19.6M891.3,171.96h19.6M891.3,174.90h19.6M891.3,177.85h19.6M891.3,180.79h19.6M891.3,183.73h19.6M891.3,186.68h19.6M891.3,189.62h19.6M891.3,192.56h19.6M891.3,195.50h19.6M891.3,198.45h19.6M891.3,201.39h19.6M891.3,204.33h19.6M891.3,207.28h19.6M891.3,210.22h19.6M891.3,213.16h19.6M891.3,216.10h19.6M891.3,219.05h19.6M891.3,221.99h19.6M891.3,224.93h19.6M891.3,227.88h19.6M891.3,230.82h19.6M891.3,233.76h19.6M891.3,236.71h19.6M891.3,239.65h19.6M891.3,242.59h19.6M891.3,245.53h19.6M891.3,248.48h19.6M891.3,251.42h19.6M891.3,254.36h19.6M891.3,257.31h19.6M891.3,260.25h19.6M891.3,263.19h19.6M891.3,266.14h19.6M891.3,269.08h19.6M891.3,272.02h19.6M891.3,274.97h19.6M891.3,277.91h19.6M891.3,280.85h19.6M891.3,283.79h19.6M891.3,286.74h19.6M891.3,289.68h19.6M891.3,292.62h19.6M891.3,295.57h19.6M891.3,298.51h19.6M891.3,301.45h19.6M891.3,304.39h19.6M891.3,307.34h19.6M891.3,310.28h19.6M891.3,313.22h19.6M891.3,316.17h19.6M891.3,319.11h19.6M891.3,322.05h19.6M891.3,325.00h19.6M891.3,327.94h19.6M891.3,330.88h19.6M891.3,333.82h19.6M891.3,336.77h19.6M891.3,339.71h19.6M891.3,342.65h19.6M891.3,345.60h19.6M891.3,348.54h19.6M891.3,351.48h19.6M891.3,354.43h19.6M891.3,357.37h19.6M891.3,360.31h19.6M891.3,363.25h19.6M891.3,366.20h19.6M891.3,369.14h19.6M891.3,372.08h19.6M891.3,375.03h19.6M891.3,377.97h19.6M891.3,380.91h19.6M891.3,383.86h19.6M891.3,386.80h19.6M891.3,389.74h19.6M891.3,392.68h19.6M891.3,395.63h19.6" stroke="#fff" stroke-width="0.6" stroke-opacity="0.38" fill="none"/>
<text x="929.3" y="121.8" font-size="16.4" text-anchor="start">35</text>
<text x="929.3" y="142.4" font-size="16.4" text-anchor="start">28</text>
<text x="929.3" y="163.0" font-size="16.4" text-anchor="start">21</text>
<text x="929.3" y="183.6" font-size="16.4" text-anchor="start">14</text>
<text x="929.3" y="204.2" font-size="16.4" text-anchor="start">7</text>
<text x="929.3" y="224.8" font-size="16.4" text-anchor="start">0</text>
<text x="929.3" y="245.4" font-size="16.4" text-anchor="start">-7</text>
<text x="929.3" y="266.1" font-size="16.4" text-anchor="start">-14</text>
<text x="929.3" y="286.7" font-size="16.4" text-anchor="start">-21</text>
<text x="929.3" y="307.3" font-size="16.4" text-anchor="start">-28</text>
<text x="929.3" y="327.9" font-size="16.4" text-anchor="start">-35</text>
<text x="929.3" y="348.5" font-size="16.4" text-anchor="start">-42</text>
<text x="929.3" y="369.1" font-size="16.4" text-anchor="start">-49</text>
<text x="929.3" y="389.7" font-size="16.4" text-anchor="start">-56</text>
<path d="M204.8,460.6V562.9M256.0,460.6V562.9M307.2,460.6V562.9M358.4,460.6V562.9M409.6,460.6V562.9M460.8,460.6V562.9M512.0,460.6V562.9M563.2,460.6V562.9M614.4,460.6V562.9M665.6,460.6V562.9M716.8,460.6V562.9M768.0,460.6V562.9M819.2,460.6V562.9M153.7,545.9H870.5M153.7,528.8H870.5M153.7,511.8H870.5M153.7,494.7H870.5M153.7,477.6H870.5" stroke="#2a2a2a" stroke-width="0.6" stroke-dasharray="3.4,4.5" fill="none"/>
<polyline points="204.8,464.9 256.0,482.8 307.2,488.7 358.4,510.0 409.6,522.0 460.8,525.4 512.0,531.4 563.2,542.4 614.4,552.7 665.6,547.6 716.8,540.7 768.0,538.2 819.2,535.6" fill="none" stroke="#1a1aff" stroke-width="1.3"/>
<rect x="153.7" y="460.6" width="716.8" height="102.3" fill="none" stroke="#000" stroke-width="1.2"/>
<text x="133.2" y="565.9" font-size="8.3" text-anchor="end">1007.0</text>
<text x="133.2" y="548.8" font-size="8.3" text-anchor="end">1008.0</text>
<text x="133.2" y="531.8" font-size="8.3" text-anchor="end">1009.0</text>
<text x="133.2" y="514.7" font-size="8.3" text-anchor="end">1010.0</text>
<text x="133.2" y="497.7" font-size="8.3" text-anchor="end">1011.0</text>
<text x="133.2" y="480.6" font-size="8.3" text-anchor="end">1012.0</text>
<text x="133.2" y="463.6" font-size="8.3" text-anchor="end">1013.0</text>
<path d="M153.7,562.9h-14.5M870.5,562.9h14.5M153.7,545.9h-14.5M870.5,545.9h14.5M153.7,528.8h-14.5M870.5,528.8h14.5M153.7,511.8h-14.5M870.5,511.8h14.5M153.7,494.7h-14.5M870.5,494.7h14.5M153.7,477.6h-14.5M870.5,477.6h14.5M153.7,460.6h-14.5M870.5,460.6h14.5M204.8,562.9v13.8M256.0,562.9v13.8M307.2,562.9v13.8M358.4,562.9v13.8M409.6,562.9v13.8M460.8,562.9v13.8M512.0,562.9v13.8M563.2,562.9v13.8M614.4,562.9v13.8M665.6,562.9v13.8M716.8,562.9v13.8M768.0,562.9v13.8M819.2,562.9v13.8" stroke="#000" stroke-width="1.2" fill="none"/>
<path d="M153.7,559.5h-7.3M870.5,559.5h7.3M153.7,556.1h-7.3M870.5,556.1h7.3M153.7,552.7h-7.3M870.5,552.7h7.3M153.7,549.3h-7.3M870.5,549.3h7.3M153.7,542.4h-7.3M870.5,542.4h7.3M153.7,539.0h-7.3M870.5,539.0h7.3M153.7,535.6h-7.3M870.5,535.6h7.3M153.7,532.2h-7.3M870.5,532.2h7.3M153.7,525.4h-7.3M870.5,525.4h7.3M153.7,522.0h-7.3M870.5,522.0h7.3M153.7,518.6h-7.3M870.5,518.6h7.3M153.7,515.2h-7.3M870.5,515.2h7.3M153.7,508.3h-7.3M870.5,508.3h7.3M153.7,504.9h-7.3M870.5,504.9h7.3M153.7,501.5h-7.3M870.5,501.5h7.3M153.7,498.1h-7.3M870.5,498.1h7.3M153.7,491.3h-7.3M870.5,491.3h7.3M153.7,487.9h-7.3M870.5,487.9h7.3M153.7,484.5h-7.3M870.5,484.5h7.3M153.7,481.1h-7.3M870.5,481.1h7.3M153.7,474.2h-7.3M870.5,474.2h7.3M153.7,470.8h-7.3M870.5,470.8h7.3M153.7,467.4h-7.3M870.5,467.4h7.3M153.7,464.0h-7.3M870.5,464.0h7.3" stroke="#000" stroke-width="0.7" fill="none"/>
<text x="208.6" y="590.1" font-size="12.6" text-anchor="middle" dominant-baseline="central" transform="rotate(-45 208.6 590.1)">27_12</text>
<text x="259.8" y="590.1" font-size="12.6" text-anchor="middle" dominant-baseline="central" transform="rotate(-45 259.8 590.1)">27_15</text>
<text x="311.0" y="590.1" font-size="12.6" text-anchor="middle" dominant-baseline="central" transform="rotate(-45 311.0 590.1)">27_18</text>
<text x="362.2" y="590.1" font-size="12.6" text-anchor="middle" dominant-baseline="central" transform="rotate(-45 362.2 590.1)">27_21</text>
<text x="413.4" y="590.1" font-size="12.6" text-anchor="middle" dominant-baseline="central" transform="rotate(-45 413.4 590.1)">28_00</text>
<text x="464.6" y="590.1" font-size="12.6" text-anchor="middle" dominant-baseline="central" transform="rotate(-45 464.6 590.1)">28_03</text>
<text x="515.8" y="590.1" font-size="12.6" text-anchor="middle" dominant-baseline="central" transform="rotate(-45 515.8 590.1)">28_06</text>
<text x="567.0" y="590.1" font-size="12.6" text-anchor="middle" dominant-baseline="central" transform="rotate(-45 567.0 590.1)">28_09</text>
<text x="618.2" y="590.1" font-size="12.6" text-anchor="middle" dominant-baseline="central" transform="rotate(-45 618.2 590.1)">28_12</text>
<text x="669.4" y="590.1" font-size="12.6" text-anchor="middle" dominant-baseline="central" transform="rotate(-45 669.4 590.1)">28_15</text>
<text x="720.6" y="590.1" font-size="12.6" text-anchor="middle" dominant-baseline="central" transform="rotate(-45 720.6 590.1)">28_18</text>
<text x="771.8" y="590.1" font-size="12.6" text-anchor="middle" dominant-baseline="central" transform="rotate(-45 771.8 590.1)">28_21</text>
<text x="823.0" y="590.1" font-size="12.6" text-anchor="middle" dominant-baseline="central" transform="rotate(-45 823.0 590.1)">29_00</text>
<text x="91.8" y="511.9" font-size="25.5" text-anchor="middle" textLength="65.2" lengthAdjust="spacingAndGlyphs" transform="rotate(-90 91.8 511.9)">PMSL</text>
<path d="M204.8,614.3V716.3M256.0,614.3V716.3M307.2,614.3V716.3M358.4,614.3V716.3M409.6,614.3V716.3M460.8,614.3V716.3M512.0,614.3V716.3M563.2,614.3V716.3M614.4,614.3V716.3M665.6,614.3V716.3M716.8,614.3V716.3M768.0,614.3V716.3M819.2,614.3V716.3M153.7,701.7H870.5M153.7,687.2H870.5M153.7,672.6H870.5M153.7,658.0H870.5M153.7,643.4H870.5M153.7,628.9H870.5" stroke="#2a2a2a" stroke-width="0.6" stroke-dasharray="3.4,4.5" fill="none"/>
<polyline points="204.8,628.9 256.0,671.9 307.2,683.5 358.4,695.2 409.6,706.1 460.8,714.8 512.0,674.0 563.2,644.2 614.4,626.7 665.6,656.6 716.8,674.8 768.0,687.9 819.2,705.4" fill="none" stroke="#ff1a1a" stroke-width="1.3"/>
<rect x="153.7" y="614.3" width="716.8" height="102.0" fill="none" stroke="#000" stroke-width="1.2"/>
<text x="133.2" y="719.3" font-size="8.3" text-anchor="end">4</text>
<text x="133.2" y="704.7" font-size="8.3" text-anchor="end">6</text>
<text x="133.2" y="690.1" font-size="8.3" text-anchor="end">8</text>
<text x="133.2" y="675.6" font-size="8.3" text-anchor="end">10</text>
<text x="133.2" y="661.0" font-size="8.3" text-anchor="end">12</text>
<text x="133.2" y="646.4" font-size="8.3" text-anchor="end">14</text>
<text x="133.2" y="631.9" font-size="8.3" text-anchor="end">16</text>
<text x="133.2" y="617.3" font-size="8.3" text-anchor="end">18</text>
<path d="M153.7,716.3h-14.5M870.5,716.3h14.5M153.7,701.7h-14.5M870.5,701.7h14.5M153.7,687.2h-14.5M870.5,687.2h14.5M153.7,672.6h-14.5M870.5,672.6h14.5M153.7,658.0h-14.5M870.5,658.0h14.5M153.7,643.4h-14.5M870.5,643.4h14.5M153.7,628.9h-14.5M870.5,628.9h14.5M153.7,614.3h-14.5M870.5,614.3h14.5M204.8,716.3v13.8M256.0,716.3v13.8M307.2,716.3v13.8M358.4,716.3v13.8M409.6,716.3v13.8M460.8,716.3v13.8M512.0,716.3v13.8M563.2,716.3v13.8M614.4,716.3v13.8M665.6,716.3v13.8M716.8,716.3v13.8M768.0,716.3v13.8M819.2,716.3v13.8" stroke="#000" stroke-width="1.2" fill="none"/>
<path d="M153.7,712.7h-7.3M870.5,712.7h7.3M153.7,709.0h-7.3M870.5,709.0h7.3M153.7,705.4h-7.3M870.5,705.4h7.3M153.7,698.1h-7.3M870.5,698.1h7.3M153.7,694.4h-7.3M870.5,694.4h7.3M153.7,690.8h-7.3M870.5,690.8h7.3M153.7,683.5h-7.3M870.5,683.5h7.3M153.7,679.9h-7.3M870.5,679.9h7.3M153.7,676.2h-7.3M870.5,676.2h7.3M153.7,668.9h-7.3M870.5,668.9h7.3M153.7,665.3h-7.3M870.5,665.3h7.3M153.7,661.7h-7.3M870.5,661.7h7.3M153.7,654.4h-7.3M870.5,654.4h7.3M153.7,650.7h-7.3M870.5,650.7h7.3M153.7,647.1h-7.3M870.5,647.1h7.3M153.7,639.8h-7.3M870.5,639.8h7.3M153.7,636.2h-7.3M870.5,636.2h7.3M153.7,632.5h-7.3M870.5,632.5h7.3M153.7,625.2h-7.3M870.5,625.2h7.3M153.7,621.6h-7.3M870.5,621.6h7.3M153.7,617.9h-7.3M870.5,617.9h7.3" stroke="#000" stroke-width="0.7" fill="none"/>
<text x="208.6" y="743.5" font-size="12.6" text-anchor="middle" dominant-baseline="central" transform="rotate(-45 208.6 743.5)">27_12</text>
<text x="259.8" y="743.5" font-size="12.6" text-anchor="middle" dominant-baseline="central" transform="rotate(-45 259.8 743.5)">27_15</text>
<text x="311.0" y="743.5" font-size="12.6" text-anchor="middle" dominant-baseline="central" transform="rotate(-45 311.0 743.5)">27_18</text>
<text x="362.2" y="743.5" font-size="12.6" text-anchor="middle" dominant-baseline="central" transform="rotate(-45 362.2 743.5)">27_21</text>
<text x="413.4" y="743.5" font-size="12.6" text-anchor="middle" dominant-baseline="central" transform="rotate(-45 413.4 743.5)">28_00</text>
<text x="464.6" y="743.5" font-size="12.6" text-anchor="middle" dominant-baseline="central" transform="rotate(-45 464.6 743.5)">28_03</text>
<text x="515.8" y="743.5" font-size="12.6" text-anchor="middle" dominant-baseline="central" transform="rotate(-45 515.8 743.5)">28_06</text>
<text x="567.0" y="743.5" font-size="12.6" text-anchor="middle" dominant-baseline="central" transform="rotate(-45 567.0 743.5)">28_09</text>
<text x="618.2" y="743.5" font-size="12.6" text-anchor="middle" dominant-baseline="central" transform="rotate(-45 618.2 743.5)">28_12</text>
<text x="669.4" y="743.5" font-size="12.6" text-anchor="middle" dominant-baseline="central" transform="rotate(-45 669.4 743.5)">28_15</text>
<text x="720.6" y="743.5" font-size="12.6" text-anchor="middle" dominant-baseline="central" transform="rotate(-45 720.6 743.5)">28_18</text>
<text x="771.8" y="743.5" font-size="12.6" text-anchor="middle" dominant-baseline="central" transform="rotate(-45 771.8 743.5)">28_21</text>
<text x="823.0" y="743.5" font-size="12.6" text-anchor="middle" dominant-baseline="central" transform="rotate(-45 823.0 743.5)">29_00</text>
<text x="108.8" y="665.2" font-size="25.5" text-anchor="middle" textLength="139.2" lengthAdjust="spacingAndGlyphs" transform="rotate(-90 108.8 665.2)">TEMP at 2 M</text>
<path d="M213.3,819.3V952.2M273.0,819.3V952.2M332.8,819.3V952.2M392.5,819.3V952.2M452.3,819.3V952.2M512.0,819.3V952.2M571.8,819.3V952.2M631.6,819.3V952.2M691.3,819.3V952.2M751.1,819.3V952.2M810.8,819.3V952.2M153.7,925.6H870.5M153.7,899.0H870.5M153.7,872.5H870.5M153.7,845.9H870.5" stroke="#2a2a2a" stroke-width="0.6" stroke-dasharray="3.4,4.5" fill="none"/>
<polyline points="153.5,951.7 213.3,951.7 273.0,951.7 332.8,951.7 392.5,951.7 452.3,951.7 512.0,951.7 571.8,951.7 631.6,951.7 691.3,951.7 751.1,951.7 810.8,951.7 870.6,951.7" fill="none" stroke="#1f9a1f" stroke-width="1.3"/>
<rect x="153.7" y="819.3" width="716.8" height="132.9" fill="none" stroke="#000" stroke-width="1.2"/>
<text x="133.2" y="955.4" font-size="8.8" text-anchor="end">0.0</text>
<text x="133.2" y="928.8" font-size="8.8" text-anchor="end">0.2</text>
<text x="133.2" y="902.2" font-size="8.8" text-anchor="end">0.4</text>
<text x="133.2" y="875.6" font-size="8.8" text-anchor="end">0.6</text>
<text x="133.2" y="849.0" font-size="8.8" text-anchor="end">0.8</text>
<text x="133.2" y="822.5" font-size="8.8" text-anchor="end">1.0</text>
<path d="M153.7,952.2h-14.5M870.5,952.2h14.5M153.7,925.6h-14.5M870.5,925.6h14.5M153.7,899.0h-14.5M870.5,899.0h14.5M153.7,872.5h-14.5M870.5,872.5h14.5M153.7,845.9h-14.5M870.5,845.9h14.5M153.7,819.3h-14.5M870.5,819.3h14.5M153.5,952.2v14.8M213.3,952.2v14.8M273.0,952.2v14.8M332.8,952.2v14.8M392.5,952.2v14.8M452.3,952.2v14.8M512.0,952.2v14.8M571.8,952.2v14.8M631.6,952.2v14.8M691.3,952.2v14.8M751.1,952.2v14.8M810.8,952.2v14.8M870.6,952.2v14.8" stroke="#000" stroke-width="1.2" fill="none"/>
<path d="M153.7,945.6h-7.3M870.5,945.6h7.3M153.7,938.9h-7.3M870.5,938.9h7.3M153.7,932.3h-7.3M870.5,932.3h7.3M153.7,919.0h-7.3M870.5,919.0h7.3M153.7,912.3h-7.3M870.5,912.3h7.3M153.7,905.7h-7.3M870.5,905.7h7.3M153.7,892.4h-7.3M870.5,892.4h7.3M153.7,885.8h-7.3M870.5,885.8h7.3M153.7,879.1h-7.3M870.5,879.1h7.3M153.7,865.8h-7.3M870.5,865.8h7.3M153.7,859.2h-7.3M870.5,859.2h7.3M153.7,852.5h-7.3M870.5,852.5h7.3M153.7,839.2h-7.3M870.5,839.2h7.3M153.7,832.6h-7.3M870.5,832.6h7.3M153.7,825.9h-7.3M870.5,825.9h7.3" stroke="#000" stroke-width="0.7" fill="none"/>
<text x="157.7" y="979.4" font-size="12.6" text-anchor="middle" dominant-baseline="central" transform="rotate(-45 157.7 979.4)">27_12</text>
<text x="217.5" y="979.4" font-size="12.6" text-anchor="middle" dominant-baseline="central" transform="rotate(-45 217.5 979.4)">27_15</text>
<text x="277.2" y="979.4" font-size="12.6" text-anchor="middle" dominant-baseline="central" transform="rotate(-45 277.2 979.4)">27_18</text>
<text x="337.0" y="979.4" font-size="12.6" text-anchor="middle" dominant-baseline="central" transform="rotate(-45 337.0 979.4)">27_21</text>
<text x="396.7" y="979.4" font-size="12.6" text-anchor="middle" dominant-baseline="central" transform="rotate(-45 396.7 979.4)">28_00</text>
<text x="456.5" y="979.4" font-size="12.6" text-anchor="middle" dominant-baseline="central" transform="rotate(-45 456.5 979.4)">28_03</text>
<text x="516.2" y="979.4" font-size="12.6" text-anchor="middle" dominant-baseline="central" transform="rotate(-45 516.2 979.4)">28_06</text>
<text x="576.0" y="979.4" font-size="12.6" text-anchor="middle" dominant-baseline="central" transform="rotate(-45 576.0 979.4)">28_09</text>
<text x="635.8" y="979.4" font-size="12.6" text-anchor="middle" dominant-baseline="central" transform="rotate(-45 635.8 979.4)">28_12</text>
<text x="695.5" y="979.4" font-size="12.6" text-anchor="middle" dominant-baseline="central" transform="rotate(-45 695.5 979.4)">28_15</text>
<text x="755.3" y="979.4" font-size="12.6" text-anchor="middle" dominant-baseline="central" transform="rotate(-45 755.3 979.4)">28_18</text>
<text x="815.0" y="979.4" font-size="12.6" text-anchor="middle" dominant-baseline="central" transform="rotate(-45 815.0 979.4)">28_21</text>
<text x="874.8" y="979.4" font-size="12.6" text-anchor="middle" dominant-baseline="central" transform="rotate(-45 874.8 979.4)">29_00</text>
<text x="101.5" y="885.5" font-size="25.5" text-anchor="middle" textLength="146.2" lengthAdjust="spacingAndGlyphs" transform="rotate(-90 101.5 885.5)">PRECIP, mm</text>
</svg>
</body></html>
